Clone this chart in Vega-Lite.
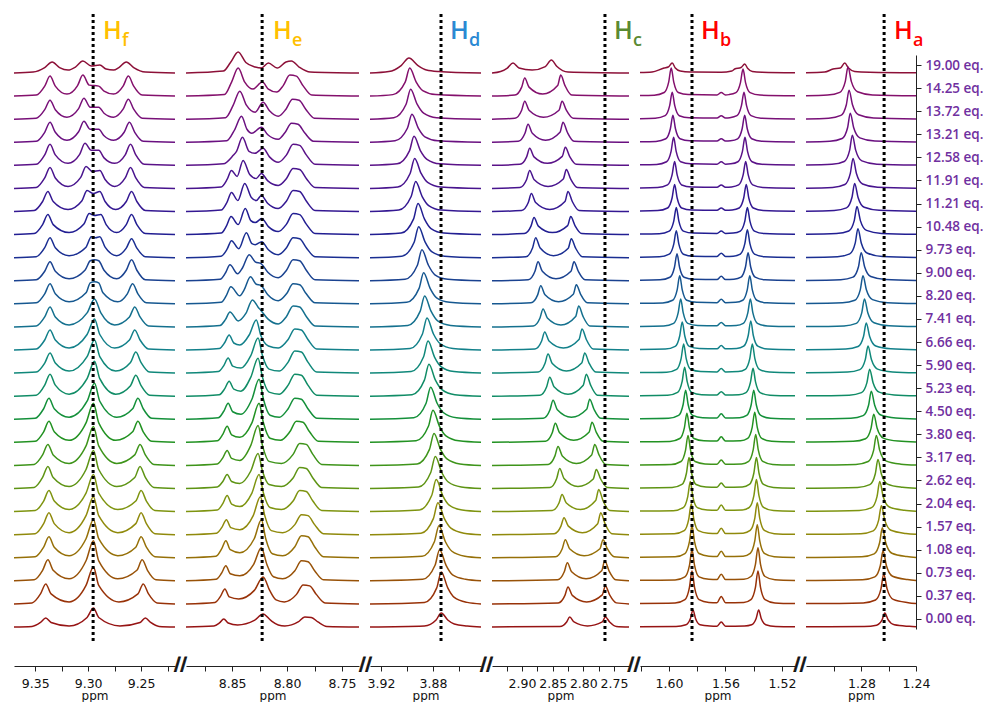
{
  "$schema": "https://vega.github.io/schema/vega-lite/v6.json",
  "background": "white",
  "padding": {"left": 11, "top": 12, "right": 0, "bottom": 0},
  "bounds": "flush",
  "spacing": 11,
  "config": {
    "view": {"stroke": null},
    "font": "DejaVu Sans",
    "axis": {"grid": false},
    "axisX": {"offset": 24, "tickSize": 5, "domainColor": "#222222", "tickColor": "#222222", "labelColor": "#111111", "labelFont": "DejaVu Sans", "labelFontSize": 12.5, "labelPadding": 6, "labelFlush": false, "labelOverlap": false, "titleFont": "DejaVu Sans", "titleFontSize": 12, "titleFontWeight": "normal", "titleColor": "#111111", "titlePadding": 1},
    "axisY": {"tickSize": 5, "domainColor": "#222222", "tickColor": "#222222", "labelFont": "Open Sans", "labelFontWeight": 600, "labelFontSize": 13.5, "labelColor": "#7030A0", "labelPadding": 4}
  },
  "datasets": {
    "hf": [
      {"e":19,"x":9.37,"y":0},{"e":19,"x":9.352,"y":1},{"e":19,"x":9.341,"y":5.5},{"e":19,"x":9.334,"y":11},{"e":19,"x":9.327,"y":5.5},{"e":19,"x":9.319,"y":3},{"e":19,"x":9.312,"y":6},{"e":19,"x":9.305,"y":12},{"e":19,"x":9.297,"y":7},{"e":19,"x":9.289,"y":8},{"e":19,"x":9.283,"y":4},{"e":19,"x":9.276,"y":3},{"e":19,"x":9.271,"y":5.5},{"e":19,"x":9.264,"y":11},{"e":19,"x":9.257,"y":5.5},{"e":19,"x":9.246,"y":1},{"e":19,"x":9.218,"y":0},
      {"e":14.25,"x":9.37,"y":0},{"e":14.25,"x":9.349,"y":1},{"e":14.25,"x":9.341,"y":10},{"e":14.25,"x":9.336,"y":20},{"e":14.25,"x":9.331,"y":10},{"e":14.25,"x":9.32,"y":2},{"e":14.25,"x":9.31,"y":10.5},{"e":14.25,"x":9.305,"y":21},{"e":14.25,"x":9.299,"y":11},{"e":14.25,"x":9.29,"y":10},{"e":14.25,"x":9.285,"y":5},{"e":14.25,"x":9.276,"y":2},{"e":14.25,"x":9.267,"y":10},{"e":14.25,"x":9.262,"y":20},{"e":14.25,"x":9.257,"y":10},{"e":14.25,"x":9.249,"y":1},{"e":14.25,"x":9.218,"y":0},
      {"e":13.72,"x":9.37,"y":0},{"e":13.72,"x":9.349,"y":1},{"e":13.72,"x":9.341,"y":9.5},{"e":13.72,"x":9.336,"y":19},{"e":13.72,"x":9.331,"y":9.5},{"e":13.72,"x":9.32,"y":2},{"e":13.72,"x":9.309,"y":10.5},{"e":13.72,"x":9.304,"y":21},{"e":13.72,"x":9.298,"y":12},{"e":13.72,"x":9.29,"y":12},{"e":13.72,"x":9.285,"y":6},{"e":13.72,"x":9.276,"y":2},{"e":13.72,"x":9.267,"y":10},{"e":13.72,"x":9.262,"y":20},{"e":13.72,"x":9.257,"y":10},{"e":13.72,"x":9.249,"y":1},{"e":13.72,"x":9.218,"y":0},
      {"e":13.21,"x":9.37,"y":0},{"e":13.21,"x":9.349,"y":1},{"e":13.21,"x":9.341,"y":10},{"e":13.21,"x":9.336,"y":20},{"e":13.21,"x":9.331,"y":10},{"e":13.21,"x":9.32,"y":2},{"e":13.21,"x":9.309,"y":10.5},{"e":13.21,"x":9.304,"y":21},{"e":13.21,"x":9.298,"y":13},{"e":13.21,"x":9.29,"y":13},{"e":13.21,"x":9.285,"y":6.5},{"e":13.21,"x":9.276,"y":2},{"e":13.21,"x":9.266,"y":10},{"e":13.21,"x":9.261,"y":20},{"e":13.21,"x":9.256,"y":10},{"e":13.21,"x":9.248,"y":1},{"e":13.21,"x":9.218,"y":0},
      {"e":12.58,"x":9.37,"y":0},{"e":12.58,"x":9.349,"y":1},{"e":12.58,"x":9.341,"y":10.5},{"e":12.58,"x":9.336,"y":21},{"e":12.58,"x":9.331,"y":10.5},{"e":12.58,"x":9.319,"y":2},{"e":12.58,"x":9.308,"y":11},{"e":12.58,"x":9.303,"y":22},{"e":12.58,"x":9.297,"y":15},{"e":12.58,"x":9.29,"y":15},{"e":12.58,"x":9.285,"y":7.5},{"e":12.58,"x":9.275,"y":2},{"e":12.58,"x":9.265,"y":10.5},{"e":12.58,"x":9.26,"y":21},{"e":12.58,"x":9.255,"y":10.5},{"e":12.58,"x":9.247,"y":1},{"e":12.58,"x":9.218,"y":0},
      {"e":11.91,"x":9.37,"y":0},{"e":11.91,"x":9.349,"y":1},{"e":11.91,"x":9.341,"y":10.5},{"e":11.91,"x":9.336,"y":21},{"e":11.91,"x":9.331,"y":10.5},{"e":11.91,"x":9.319,"y":2},{"e":11.91,"x":9.307,"y":11},{"e":11.91,"x":9.302,"y":22},{"e":11.91,"x":9.296,"y":17},{"e":11.91,"x":9.289,"y":18},{"e":11.91,"x":9.284,"y":9},{"e":11.91,"x":9.275,"y":2},{"e":11.91,"x":9.265,"y":10.5},{"e":11.91,"x":9.26,"y":21},{"e":11.91,"x":9.255,"y":10.5},{"e":11.91,"x":9.247,"y":1},{"e":11.91,"x":9.218,"y":0},
      {"e":11.21,"x":9.37,"y":0},{"e":11.21,"x":9.351,"y":1},{"e":11.21,"x":9.343,"y":10},{"e":11.21,"x":9.338,"y":20},{"e":11.21,"x":9.333,"y":10},{"e":11.21,"x":9.319,"y":2},{"e":11.21,"x":9.306,"y":10.5},{"e":11.21,"x":9.301,"y":21},{"e":11.21,"x":9.295,"y":18},{"e":11.21,"x":9.289,"y":20},{"e":11.21,"x":9.284,"y":10},{"e":11.21,"x":9.274,"y":2},{"e":11.21,"x":9.264,"y":10},{"e":11.21,"x":9.259,"y":20},{"e":11.21,"x":9.254,"y":10},{"e":11.21,"x":9.246,"y":1},{"e":11.21,"x":9.218,"y":0},
      {"e":10.48,"x":9.37,"y":0},{"e":10.48,"x":9.351,"y":1},{"e":10.48,"x":9.343,"y":10},{"e":10.48,"x":9.338,"y":20},{"e":10.48,"x":9.333,"y":10},{"e":10.48,"x":9.318,"y":2},{"e":10.48,"x":9.304,"y":10.5},{"e":10.48,"x":9.299,"y":21},{"e":10.48,"x":9.294,"y":19},{"e":10.48,"x":9.288,"y":20},{"e":10.48,"x":9.283,"y":10},{"e":10.48,"x":9.273,"y":2},{"e":10.48,"x":9.264,"y":10},{"e":10.48,"x":9.259,"y":20},{"e":10.48,"x":9.254,"y":10},{"e":10.48,"x":9.246,"y":1},{"e":10.48,"x":9.218,"y":0},
      {"e":9.73,"x":9.37,"y":0},{"e":9.73,"x":9.349,"y":1},{"e":9.73,"x":9.341,"y":10},{"e":9.73,"x":9.336,"y":20},{"e":9.73,"x":9.331,"y":10},{"e":9.73,"x":9.318,"y":2},{"e":9.73,"x":9.302,"y":10.5},{"e":9.73,"x":9.297,"y":21},{"e":9.73,"x":9.293,"y":20},{"e":9.73,"x":9.289,"y":21},{"e":9.73,"x":9.284,"y":10.5},{"e":9.73,"x":9.273,"y":2},{"e":9.73,"x":9.264,"y":9.5},{"e":9.73,"x":9.259,"y":19},{"e":9.73,"x":9.254,"y":9.5},{"e":9.73,"x":9.246,"y":1},{"e":9.73,"x":9.218,"y":0},
      {"e":9,"x":9.37,"y":0},{"e":9,"x":9.349,"y":1},{"e":9,"x":9.341,"y":9.5},{"e":9,"x":9.336,"y":19},{"e":9,"x":9.331,"y":9.5},{"e":9,"x":9.318,"y":2},{"e":9,"x":9.303,"y":10.5},{"e":9,"x":9.298,"y":20},{"e":9,"x":9.294,"y":21},{"e":9,"x":9.29,"y":20},{"e":9,"x":9.285,"y":10.5},{"e":9,"x":9.273,"y":2},{"e":9,"x":9.264,"y":10.5},{"e":9,"x":9.259,"y":21},{"e":9,"x":9.254,"y":10.5},{"e":9,"x":9.246,"y":1},{"e":9,"x":9.218,"y":0},
      {"e":8.2,"x":9.37,"y":0},{"e":8.2,"x":9.349,"y":1},{"e":8.2,"x":9.341,"y":10},{"e":8.2,"x":9.336,"y":20},{"e":8.2,"x":9.331,"y":10},{"e":8.2,"x":9.318,"y":2},{"e":8.2,"x":9.302,"y":11},{"e":8.2,"x":9.298,"y":21},{"e":8.2,"x":9.294,"y":22},{"e":8.2,"x":9.29,"y":21},{"e":8.2,"x":9.286,"y":11},{"e":8.2,"x":9.272,"y":2},{"e":8.2,"x":9.263,"y":10},{"e":8.2,"x":9.258,"y":20},{"e":8.2,"x":9.253,"y":10},{"e":8.2,"x":9.245,"y":1},{"e":8.2,"x":9.218,"y":0},
      {"e":7.41,"x":9.37,"y":0},{"e":7.41,"x":9.349,"y":1},{"e":7.41,"x":9.341,"y":10},{"e":7.41,"x":9.336,"y":20},{"e":7.41,"x":9.331,"y":10},{"e":7.41,"x":9.318,"y":2},{"e":7.41,"x":9.301,"y":14},{"e":7.41,"x":9.294,"y":28},{"e":7.41,"x":9.288,"y":14},{"e":7.41,"x":9.275,"y":2},{"e":7.41,"x":9.261,"y":10},{"e":7.41,"x":9.256,"y":20},{"e":7.41,"x":9.251,"y":10},{"e":7.41,"x":9.243,"y":1},{"e":7.41,"x":9.218,"y":0},
      {"e":6.66,"x":9.37,"y":0},{"e":6.66,"x":9.349,"y":1},{"e":6.66,"x":9.341,"y":10},{"e":6.66,"x":9.336,"y":20},{"e":6.66,"x":9.331,"y":10},{"e":6.66,"x":9.318,"y":2},{"e":6.66,"x":9.301,"y":15.5},{"e":6.66,"x":9.294,"y":31},{"e":6.66,"x":9.289,"y":15.5},{"e":6.66,"x":9.275,"y":2},{"e":6.66,"x":9.261,"y":10},{"e":6.66,"x":9.256,"y":20},{"e":6.66,"x":9.251,"y":10},{"e":6.66,"x":9.243,"y":1},{"e":6.66,"x":9.218,"y":0},
      {"e":5.9,"x":9.37,"y":0},{"e":5.9,"x":9.349,"y":1},{"e":5.9,"x":9.341,"y":10},{"e":5.9,"x":9.336,"y":20},{"e":5.9,"x":9.331,"y":10},{"e":5.9,"x":9.318,"y":2},{"e":5.9,"x":9.301,"y":16.5},{"e":5.9,"x":9.294,"y":33},{"e":5.9,"x":9.289,"y":16.5},{"e":5.9,"x":9.274,"y":2},{"e":5.9,"x":9.26,"y":10.5},{"e":5.9,"x":9.255,"y":21},{"e":5.9,"x":9.25,"y":10.5},{"e":5.9,"x":9.242,"y":1},{"e":5.9,"x":9.218,"y":0},
      {"e":5.23,"x":9.37,"y":0},{"e":5.23,"x":9.349,"y":1},{"e":5.23,"x":9.341,"y":11},{"e":5.23,"x":9.336,"y":22},{"e":5.23,"x":9.331,"y":11},{"e":5.23,"x":9.318,"y":2},{"e":5.23,"x":9.301,"y":17.5},{"e":5.23,"x":9.294,"y":35},{"e":5.23,"x":9.289,"y":17.5},{"e":5.23,"x":9.274,"y":2},{"e":5.23,"x":9.26,"y":10.5},{"e":5.23,"x":9.255,"y":21},{"e":5.23,"x":9.25,"y":10.5},{"e":5.23,"x":9.242,"y":1},{"e":5.23,"x":9.218,"y":0},
      {"e":4.5,"x":9.37,"y":0},{"e":4.5,"x":9.35,"y":1},{"e":4.5,"x":9.342,"y":10.5},{"e":4.5,"x":9.337,"y":21},{"e":4.5,"x":9.332,"y":10.5},{"e":4.5,"x":9.318,"y":2},{"e":4.5,"x":9.301,"y":18},{"e":4.5,"x":9.294,"y":36},{"e":4.5,"x":9.289,"y":18},{"e":4.5,"x":9.273,"y":2},{"e":4.5,"x":9.258,"y":10.5},{"e":4.5,"x":9.253,"y":21},{"e":4.5,"x":9.248,"y":10.5},{"e":4.5,"x":9.24,"y":1},{"e":4.5,"x":9.218,"y":0},
      {"e":3.8,"x":9.37,"y":0},{"e":3.8,"x":9.35,"y":1},{"e":3.8,"x":9.342,"y":10.5},{"e":3.8,"x":9.337,"y":21},{"e":3.8,"x":9.332,"y":10.5},{"e":3.8,"x":9.318,"y":2},{"e":3.8,"x":9.302,"y":19.5},{"e":3.8,"x":9.295,"y":39},{"e":3.8,"x":9.29,"y":19.5},{"e":3.8,"x":9.274,"y":2},{"e":3.8,"x":9.258,"y":10.5},{"e":3.8,"x":9.253,"y":21},{"e":3.8,"x":9.248,"y":10.5},{"e":3.8,"x":9.24,"y":1},{"e":3.8,"x":9.218,"y":0},
      {"e":3.17,"x":9.37,"y":0},{"e":3.17,"x":9.351,"y":1},{"e":3.17,"x":9.343,"y":10.5},{"e":3.17,"x":9.338,"y":21},{"e":3.17,"x":9.333,"y":10.5},{"e":3.17,"x":9.318,"y":2},{"e":3.17,"x":9.302,"y":19.5},{"e":3.17,"x":9.295,"y":39},{"e":3.17,"x":9.29,"y":19.5},{"e":3.17,"x":9.273,"y":2},{"e":3.17,"x":9.256,"y":10.5},{"e":3.17,"x":9.251,"y":21},{"e":3.17,"x":9.246,"y":10.5},{"e":3.17,"x":9.238,"y":1},{"e":3.17,"x":9.218,"y":0},
      {"e":2.62,"x":9.37,"y":0},{"e":2.62,"x":9.351,"y":1},{"e":2.62,"x":9.343,"y":11},{"e":2.62,"x":9.338,"y":22},{"e":2.62,"x":9.333,"y":11},{"e":2.62,"x":9.318,"y":2},{"e":2.62,"x":9.302,"y":19},{"e":2.62,"x":9.295,"y":38},{"e":2.62,"x":9.29,"y":19},{"e":2.62,"x":9.273,"y":2},{"e":2.62,"x":9.256,"y":11},{"e":2.62,"x":9.251,"y":22},{"e":2.62,"x":9.246,"y":11},{"e":2.62,"x":9.238,"y":1},{"e":2.62,"x":9.218,"y":0},
      {"e":2.04,"x":9.37,"y":0},{"e":2.04,"x":9.35,"y":1},{"e":2.04,"x":9.342,"y":10.5},{"e":2.04,"x":9.337,"y":21},{"e":2.04,"x":9.332,"y":10.5},{"e":2.04,"x":9.318,"y":2},{"e":2.04,"x":9.302,"y":18.5},{"e":2.04,"x":9.295,"y":37},{"e":2.04,"x":9.29,"y":18.5},{"e":2.04,"x":9.272,"y":2},{"e":2.04,"x":9.255,"y":10.5},{"e":2.04,"x":9.25,"y":21},{"e":2.04,"x":9.245,"y":10.5},{"e":2.04,"x":9.237,"y":1},{"e":2.04,"x":9.218,"y":0},
      {"e":1.57,"x":9.37,"y":0},{"e":1.57,"x":9.35,"y":1},{"e":1.57,"x":9.342,"y":11},{"e":1.57,"x":9.337,"y":22},{"e":1.57,"x":9.332,"y":11},{"e":1.57,"x":9.318,"y":2},{"e":1.57,"x":9.302,"y":19},{"e":1.57,"x":9.295,"y":38},{"e":1.57,"x":9.29,"y":19},{"e":1.57,"x":9.272,"y":2},{"e":1.57,"x":9.255,"y":11},{"e":1.57,"x":9.25,"y":22},{"e":1.57,"x":9.245,"y":11},{"e":1.57,"x":9.237,"y":1},{"e":1.57,"x":9.218,"y":0},
      {"e":1.08,"x":9.37,"y":0},{"e":1.08,"x":9.35,"y":1},{"e":1.08,"x":9.342,"y":10.5},{"e":1.08,"x":9.337,"y":21},{"e":1.08,"x":9.332,"y":10.5},{"e":1.08,"x":9.318,"y":2},{"e":1.08,"x":9.302,"y":19},{"e":1.08,"x":9.295,"y":38},{"e":1.08,"x":9.29,"y":19},{"e":1.08,"x":9.272,"y":2},{"e":1.08,"x":9.255,"y":10.5},{"e":1.08,"x":9.25,"y":21},{"e":1.08,"x":9.245,"y":10.5},{"e":1.08,"x":9.237,"y":1},{"e":1.08,"x":9.218,"y":0},
      {"e":0.73,"x":9.37,"y":0},{"e":0.73,"x":9.351,"y":1},{"e":0.73,"x":9.343,"y":10.5},{"e":0.73,"x":9.338,"y":21},{"e":0.73,"x":9.333,"y":10.5},{"e":0.73,"x":9.318,"y":2},{"e":0.73,"x":9.302,"y":20},{"e":0.73,"x":9.295,"y":40},{"e":0.73,"x":9.29,"y":20},{"e":0.73,"x":9.272,"y":2},{"e":0.73,"x":9.254,"y":10.5},{"e":0.73,"x":9.249,"y":21},{"e":0.73,"x":9.244,"y":10.5},{"e":0.73,"x":9.236,"y":1},{"e":0.73,"x":9.218,"y":0},
      {"e":0.37,"x":9.37,"y":0},{"e":0.37,"x":9.353,"y":1},{"e":0.37,"x":9.345,"y":10},{"e":0.37,"x":9.34,"y":20},{"e":0.37,"x":9.335,"y":10},{"e":0.37,"x":9.318,"y":2},{"e":0.37,"x":9.302,"y":18.5},{"e":0.37,"x":9.295,"y":37},{"e":0.37,"x":9.29,"y":18.5},{"e":0.37,"x":9.271,"y":2},{"e":0.37,"x":9.253,"y":10},{"e":0.37,"x":9.248,"y":20},{"e":0.37,"x":9.243,"y":10},{"e":0.37,"x":9.235,"y":1},{"e":0.37,"x":9.218,"y":0},
      {"e":0,"x":9.37,"y":0},{"e":0,"x":9.353,"y":0.5},{"e":0,"x":9.345,"y":4.5},{"e":0,"x":9.34,"y":9},{"e":0,"x":9.335,"y":4.5},{"e":0,"x":9.318,"y":1},{"e":0,"x":9.301,"y":9.5},{"e":0,"x":9.295,"y":19},{"e":0,"x":9.29,"y":9.5},{"e":0,"x":9.27,"y":1},{"e":0,"x":9.251,"y":4.5},{"e":0,"x":9.246,"y":9},{"e":0,"x":9.241,"y":4.5},{"e":0,"x":9.233,"y":0.5},{"e":0,"x":9.218,"y":0}
    ],
    "he": [
      {"e":19,"x":8.892,"y":0},{"e":19,"x":8.858,"y":2},{"e":19,"x":8.8515,"y":10.5},{"e":19,"x":8.8445,"y":21},{"e":19,"x":8.8375,"y":10.5},{"e":19,"x":8.829,"y":6},{"e":19,"x":8.8234,"y":5},{"e":19,"x":8.817,"y":10},{"e":19,"x":8.809,"y":5},{"e":19,"x":8.801,"y":11},{"e":19,"x":8.796,"y":12},{"e":19,"x":8.789,"y":6},{"e":19,"x":8.779,"y":1},{"e":19,"x":8.7345,"y":0},
      {"e":14.25,"x":8.892,"y":0},{"e":14.25,"x":8.857,"y":1.5},{"e":14.25,"x":8.8505,"y":14},{"e":14.25,"x":8.8445,"y":28},{"e":14.25,"x":8.8385,"y":14},{"e":14.25,"x":8.831,"y":7},{"e":14.25,"x":8.8225,"y":14},{"e":14.25,"x":8.817,"y":7},{"e":14.25,"x":8.8095,"y":4},{"e":14.25,"x":8.8035,"y":10.5},{"e":14.25,"x":8.7975,"y":21},{"e":14.25,"x":8.7915,"y":20},{"e":14.25,"x":8.7855,"y":10.5},{"e":14.25,"x":8.7775,"y":1},{"e":14.25,"x":8.7345,"y":0},
      {"e":13.72,"x":8.892,"y":0},{"e":13.72,"x":8.856,"y":1.5},{"e":13.72,"x":8.849,"y":14},{"e":13.72,"x":8.843,"y":28},{"e":13.72,"x":8.837,"y":14},{"e":13.72,"x":8.829,"y":7},{"e":13.72,"x":8.8218,"y":17},{"e":13.72,"x":8.816,"y":8.5},{"e":13.72,"x":8.808,"y":3},{"e":13.72,"x":8.801,"y":10},{"e":13.72,"x":8.795,"y":20},{"e":13.72,"x":8.789,"y":19},{"e":13.72,"x":8.783,"y":10},{"e":13.72,"x":8.775,"y":1},{"e":13.72,"x":8.7345,"y":0},
      {"e":13.21,"x":8.892,"y":0},{"e":13.21,"x":8.855,"y":1.5},{"e":13.21,"x":8.8475,"y":13},{"e":13.21,"x":8.8415,"y":26},{"e":13.21,"x":8.8365,"y":13},{"e":13.21,"x":8.832,"y":9},{"e":13.21,"x":8.8234,"y":15},{"e":13.21,"x":8.8175,"y":7.5},{"e":13.21,"x":8.808,"y":3},{"e":13.21,"x":8.802,"y":9.5},{"e":13.21,"x":8.796,"y":19},{"e":13.21,"x":8.79,"y":18},{"e":13.21,"x":8.784,"y":9.5},{"e":13.21,"x":8.776,"y":1},{"e":13.21,"x":8.7345,"y":0},
      {"e":12.58,"x":8.892,"y":0},{"e":12.58,"x":8.858,"y":1.5},{"e":12.58,"x":8.849,"y":10},{"e":12.58,"x":8.846,"y":14},{"e":12.58,"x":8.8406,"y":28},{"e":12.58,"x":8.8346,"y":14},{"e":12.58,"x":8.8294,"y":12},{"e":12.58,"x":8.8218,"y":17},{"e":12.58,"x":8.816,"y":8.5},{"e":12.58,"x":8.808,"y":3},{"e":12.58,"x":8.8005,"y":10.5},{"e":12.58,"x":8.7945,"y":21},{"e":12.58,"x":8.7885,"y":20},{"e":12.58,"x":8.7825,"y":10.5},{"e":12.58,"x":8.7745,"y":1},{"e":12.58,"x":8.7345,"y":0},
      {"e":11.91,"x":8.892,"y":0},{"e":11.91,"x":8.86,"y":1.5},{"e":11.91,"x":8.8546,"y":9},{"e":11.91,"x":8.8506,"y":18},{"e":11.91,"x":8.8455,"y":12},{"e":11.91,"x":8.84,"y":28},{"e":11.91,"x":8.834,"y":14},{"e":11.91,"x":8.828,"y":10},{"e":11.91,"x":8.8234,"y":15},{"e":11.91,"x":8.8175,"y":7.5},{"e":11.91,"x":8.808,"y":3},{"e":11.91,"x":8.8005,"y":10},{"e":11.91,"x":8.7945,"y":20},{"e":11.91,"x":8.7885,"y":19},{"e":11.91,"x":8.7825,"y":10},{"e":11.91,"x":8.7745,"y":1},{"e":11.91,"x":8.7345,"y":0},
      {"e":11.21,"x":8.892,"y":0},{"e":11.21,"x":8.86,"y":1.5},{"e":11.21,"x":8.8546,"y":9.5},{"e":11.21,"x":8.8506,"y":19},{"e":11.21,"x":8.8448,"y":11},{"e":11.21,"x":8.8385,"y":28},{"e":11.21,"x":8.8325,"y":14},{"e":11.21,"x":8.828,"y":11},{"e":11.21,"x":8.8234,"y":16},{"e":11.21,"x":8.8175,"y":8},{"e":11.21,"x":8.808,"y":3},{"e":11.21,"x":8.8005,"y":10.5},{"e":11.21,"x":8.7945,"y":21},{"e":11.21,"x":8.7885,"y":20},{"e":11.21,"x":8.7825,"y":10.5},{"e":11.21,"x":8.7745,"y":1},{"e":11.21,"x":8.7345,"y":0},
      {"e":10.48,"x":8.892,"y":0},{"e":10.48,"x":8.86,"y":1.5},{"e":10.48,"x":8.855,"y":9},{"e":10.48,"x":8.851,"y":18},{"e":10.48,"x":8.8445,"y":10},{"e":10.48,"x":8.838,"y":26},{"e":10.48,"x":8.833,"y":14},{"e":10.48,"x":8.829,"y":12},{"e":10.48,"x":8.823,"y":16},{"e":10.48,"x":8.817,"y":8},{"e":10.48,"x":8.808,"y":3},{"e":10.48,"x":8.8005,"y":10.5},{"e":10.48,"x":8.7945,"y":21},{"e":10.48,"x":8.7885,"y":20},{"e":10.48,"x":8.7825,"y":10.5},{"e":10.48,"x":8.7745,"y":1},{"e":10.48,"x":8.7345,"y":0},
      {"e":9.73,"x":8.892,"y":0},{"e":9.73,"x":8.86,"y":1.5},{"e":9.73,"x":8.8546,"y":8.5},{"e":9.73,"x":8.8506,"y":17},{"e":9.73,"x":8.844,"y":9},{"e":9.73,"x":8.837,"y":25},{"e":9.73,"x":8.832,"y":14},{"e":9.73,"x":8.829,"y":13},{"e":9.73,"x":8.823,"y":16},{"e":9.73,"x":8.817,"y":8},{"e":9.73,"x":8.808,"y":3},{"e":9.73,"x":8.8005,"y":10},{"e":9.73,"x":8.7945,"y":20},{"e":9.73,"x":8.7885,"y":19},{"e":9.73,"x":8.7825,"y":10},{"e":9.73,"x":8.7745,"y":1},{"e":9.73,"x":8.7345,"y":0},
      {"e":9,"x":8.892,"y":0},{"e":9,"x":8.861,"y":1.5},{"e":9,"x":8.856,"y":8},{"e":9,"x":8.852,"y":16},{"e":9,"x":8.845,"y":7},{"e":9,"x":8.8405,"y":13},{"e":9,"x":8.8345,"y":26},{"e":9,"x":8.829,"y":19},{"e":9,"x":8.8234,"y":17},{"e":9,"x":8.8175,"y":8.5},{"e":9,"x":8.808,"y":3},{"e":9,"x":8.8005,"y":10.5},{"e":9,"x":8.7945,"y":21},{"e":9,"x":8.7885,"y":20},{"e":9,"x":8.7825,"y":10.5},{"e":9,"x":8.7745,"y":1},{"e":9,"x":8.7345,"y":0},
      {"e":8.2,"x":8.892,"y":0},{"e":8.2,"x":8.86,"y":1.5},{"e":8.2,"x":8.8552,"y":8.5},{"e":8.2,"x":8.8512,"y":17},{"e":8.2,"x":8.843,"y":8},{"e":8.2,"x":8.8393,"y":13.5},{"e":8.2,"x":8.8333,"y":27},{"e":8.2,"x":8.8285,"y":20},{"e":8.2,"x":8.8234,"y":18},{"e":8.2,"x":8.8175,"y":9},{"e":8.2,"x":8.808,"y":3},{"e":8.2,"x":8.8005,"y":10},{"e":8.2,"x":8.7945,"y":20},{"e":8.2,"x":8.7885,"y":19},{"e":8.2,"x":8.7825,"y":10},{"e":8.2,"x":8.7745,"y":1},{"e":8.2,"x":8.7345,"y":0},
      {"e":7.41,"x":8.892,"y":0},{"e":7.41,"x":8.861,"y":1.5},{"e":7.41,"x":8.856,"y":7.5},{"e":7.41,"x":8.852,"y":15},{"e":7.41,"x":8.8445,"y":6},{"e":7.41,"x":8.8375,"y":13.5},{"e":7.41,"x":8.8315,"y":27},{"e":7.41,"x":8.8265,"y":20},{"e":7.41,"x":8.8234,"y":16},{"e":7.41,"x":8.8175,"y":8},{"e":7.41,"x":8.808,"y":3},{"e":7.41,"x":8.8005,"y":10.5},{"e":7.41,"x":8.7945,"y":21},{"e":7.41,"x":8.7885,"y":20},{"e":7.41,"x":8.7825,"y":10.5},{"e":7.41,"x":8.7745,"y":1},{"e":7.41,"x":8.7345,"y":0},
      {"e":6.66,"x":8.892,"y":0},{"e":6.66,"x":8.8617,"y":1.5},{"e":6.66,"x":8.8567,"y":7.5},{"e":6.66,"x":8.8527,"y":15},{"e":6.66,"x":8.8485,"y":7},{"e":6.66,"x":8.843,"y":5},{"e":6.66,"x":8.8345,"y":15},{"e":6.66,"x":8.828,"y":30},{"e":6.66,"x":8.824,"y":15},{"e":6.66,"x":8.817,"y":4},{"e":6.66,"x":8.808,"y":2},{"e":6.66,"x":8.799,"y":10.5},{"e":6.66,"x":8.793,"y":21},{"e":6.66,"x":8.787,"y":20},{"e":6.66,"x":8.781,"y":10.5},{"e":6.66,"x":8.773,"y":1},{"e":6.66,"x":8.7345,"y":0},
      {"e":5.9,"x":8.892,"y":0},{"e":5.9,"x":8.8626,"y":1.5},{"e":5.9,"x":8.8576,"y":7.5},{"e":5.9,"x":8.8536,"y":15},{"e":5.9,"x":8.8495,"y":7},{"e":5.9,"x":8.842,"y":5},{"e":5.9,"x":8.833,"y":17.5},{"e":5.9,"x":8.8264,"y":35},{"e":5.9,"x":8.8224,"y":17.5},{"e":5.9,"x":8.8164,"y":4},{"e":5.9,"x":8.807,"y":2},{"e":5.9,"x":8.799,"y":11},{"e":5.9,"x":8.793,"y":22},{"e":5.9,"x":8.787,"y":21},{"e":5.9,"x":8.781,"y":11},{"e":5.9,"x":8.773,"y":1},{"e":5.9,"x":8.7345,"y":0},
      {"e":5.23,"x":8.892,"y":0},{"e":5.23,"x":8.8617,"y":1.5},{"e":5.23,"x":8.8567,"y":7.5},{"e":5.23,"x":8.8527,"y":15},{"e":5.23,"x":8.8485,"y":7},{"e":5.23,"x":8.842,"y":5},{"e":5.23,"x":8.833,"y":19},{"e":5.23,"x":8.8264,"y":38},{"e":5.23,"x":8.8224,"y":19},{"e":5.23,"x":8.8164,"y":4},{"e":5.23,"x":8.807,"y":2},{"e":5.23,"x":8.799,"y":11},{"e":5.23,"x":8.793,"y":22},{"e":5.23,"x":8.787,"y":21},{"e":5.23,"x":8.781,"y":11},{"e":5.23,"x":8.773,"y":1},{"e":5.23,"x":8.7345,"y":0},
      {"e":4.5,"x":8.892,"y":0},{"e":4.5,"x":8.8626,"y":1.5},{"e":4.5,"x":8.8576,"y":8},{"e":4.5,"x":8.8536,"y":16},{"e":4.5,"x":8.8495,"y":7.5},{"e":4.5,"x":8.842,"y":5},{"e":4.5,"x":8.832,"y":20},{"e":4.5,"x":8.8255,"y":40},{"e":4.5,"x":8.8215,"y":20},{"e":4.5,"x":8.8155,"y":4},{"e":4.5,"x":8.807,"y":2},{"e":4.5,"x":8.799,"y":10.5},{"e":4.5,"x":8.793,"y":21},{"e":4.5,"x":8.787,"y":20},{"e":4.5,"x":8.781,"y":10.5},{"e":4.5,"x":8.773,"y":1},{"e":4.5,"x":8.7345,"y":0},
      {"e":3.8,"x":8.892,"y":0},{"e":3.8,"x":8.8635,"y":1.5},{"e":3.8,"x":8.8585,"y":8},{"e":3.8,"x":8.8545,"y":16},{"e":3.8,"x":8.8505,"y":7.5},{"e":3.8,"x":8.843,"y":5},{"e":3.8,"x":8.832,"y":19.5},{"e":3.8,"x":8.8255,"y":39},{"e":3.8,"x":8.8215,"y":19.5},{"e":3.8,"x":8.8155,"y":4},{"e":3.8,"x":8.806,"y":2},{"e":3.8,"x":8.7975,"y":10.5},{"e":3.8,"x":8.7915,"y":21},{"e":3.8,"x":8.7855,"y":20},{"e":3.8,"x":8.7795,"y":10.5},{"e":3.8,"x":8.7715,"y":1},{"e":3.8,"x":8.7345,"y":0},
      {"e":3.17,"x":8.892,"y":0},{"e":3.17,"x":8.8635,"y":1.5},{"e":3.17,"x":8.8585,"y":7.5},{"e":3.17,"x":8.8545,"y":15},{"e":3.17,"x":8.8505,"y":7},{"e":3.17,"x":8.843,"y":5},{"e":3.17,"x":8.833,"y":20},{"e":3.17,"x":8.8264,"y":40},{"e":3.17,"x":8.8224,"y":20},{"e":3.17,"x":8.8164,"y":4},{"e":3.17,"x":8.805,"y":2},{"e":3.17,"x":8.7945,"y":11},{"e":3.17,"x":8.7885,"y":22},{"e":3.17,"x":8.7825,"y":21},{"e":3.17,"x":8.7765,"y":11},{"e":3.17,"x":8.7685,"y":1},{"e":3.17,"x":8.7345,"y":0},
      {"e":2.62,"x":8.892,"y":0},{"e":2.62,"x":8.8635,"y":1.5},{"e":2.62,"x":8.8585,"y":7},{"e":2.62,"x":8.8545,"y":14},{"e":2.62,"x":8.8505,"y":7},{"e":2.62,"x":8.843,"y":5},{"e":2.62,"x":8.833,"y":17.5},{"e":2.62,"x":8.8264,"y":35},{"e":2.62,"x":8.8224,"y":17.5},{"e":2.62,"x":8.8164,"y":4},{"e":2.62,"x":8.805,"y":2},{"e":2.62,"x":8.7945,"y":10.5},{"e":2.62,"x":8.7885,"y":21},{"e":2.62,"x":8.7825,"y":20},{"e":2.62,"x":8.7765,"y":10.5},{"e":2.62,"x":8.7685,"y":1},{"e":2.62,"x":8.7345,"y":0},
      {"e":2.04,"x":8.892,"y":0},{"e":2.04,"x":8.8635,"y":1.5},{"e":2.04,"x":8.8585,"y":8},{"e":2.04,"x":8.8545,"y":16},{"e":2.04,"x":8.8505,"y":7.5},{"e":2.04,"x":8.843,"y":5},{"e":2.04,"x":8.832,"y":18.5},{"e":2.04,"x":8.8255,"y":37},{"e":2.04,"x":8.8215,"y":18.5},{"e":2.04,"x":8.8155,"y":4},{"e":2.04,"x":8.805,"y":2},{"e":2.04,"x":8.7945,"y":10.5},{"e":2.04,"x":8.7885,"y":21},{"e":2.04,"x":8.7825,"y":20},{"e":2.04,"x":8.7765,"y":10.5},{"e":2.04,"x":8.7685,"y":1},{"e":2.04,"x":8.7345,"y":0},
      {"e":1.57,"x":8.892,"y":0},{"e":1.57,"x":8.8642,"y":1.5},{"e":1.57,"x":8.8592,"y":7.5},{"e":1.57,"x":8.8552,"y":15},{"e":1.57,"x":8.8512,"y":7},{"e":1.57,"x":8.843,"y":5},{"e":1.57,"x":8.8308,"y":19},{"e":1.57,"x":8.8243,"y":38},{"e":1.57,"x":8.8203,"y":19},{"e":1.57,"x":8.8143,"y":4},{"e":1.57,"x":8.804,"y":2},{"e":1.57,"x":8.7929,"y":10},{"e":1.57,"x":8.7869,"y":20},{"e":1.57,"x":8.7809,"y":19},{"e":1.57,"x":8.7749,"y":10},{"e":1.57,"x":8.7669,"y":1},{"e":1.57,"x":8.7345,"y":0},
      {"e":1.08,"x":8.892,"y":0},{"e":1.08,"x":8.8647,"y":1.5},{"e":1.08,"x":8.8597,"y":8.5},{"e":1.08,"x":8.8557,"y":17},{"e":1.08,"x":8.8517,"y":8},{"e":1.08,"x":8.843,"y":5},{"e":1.08,"x":8.8299,"y":19},{"e":1.08,"x":8.8234,"y":38},{"e":1.08,"x":8.8194,"y":19},{"e":1.08,"x":8.8134,"y":4},{"e":1.08,"x":8.804,"y":2},{"e":1.08,"x":8.7929,"y":11},{"e":1.08,"x":8.7869,"y":22},{"e":1.08,"x":8.7809,"y":21},{"e":1.08,"x":8.7749,"y":11},{"e":1.08,"x":8.7669,"y":1},{"e":1.08,"x":8.7345,"y":0},
      {"e":0.73,"x":8.892,"y":0},{"e":0.73,"x":8.8647,"y":1.5},{"e":0.73,"x":8.8597,"y":7.5},{"e":0.73,"x":8.8557,"y":15},{"e":0.73,"x":8.8517,"y":7},{"e":0.73,"x":8.843,"y":5},{"e":0.73,"x":8.8304,"y":16.5},{"e":0.73,"x":8.8234,"y":33},{"e":0.73,"x":8.8184,"y":16.5},{"e":0.73,"x":8.8124,"y":4},{"e":0.73,"x":8.804,"y":2},{"e":0.73,"x":8.7929,"y":10},{"e":0.73,"x":8.7869,"y":20},{"e":0.73,"x":8.7809,"y":19},{"e":0.73,"x":8.7749,"y":10},{"e":0.73,"x":8.7669,"y":1},{"e":0.73,"x":8.7345,"y":0},
      {"e":0.37,"x":8.892,"y":0},{"e":0.37,"x":8.8656,"y":1.5},{"e":0.37,"x":8.8606,"y":7.5},{"e":0.37,"x":8.8566,"y":15},{"e":0.37,"x":8.8526,"y":7},{"e":0.37,"x":8.844,"y":5},{"e":0.37,"x":8.8298,"y":13.5},{"e":0.37,"x":8.8218,"y":27},{"e":0.37,"x":8.8158,"y":13.5},{"e":0.37,"x":8.81,"y":4},{"e":0.37,"x":8.8025,"y":2},{"e":0.37,"x":8.7914,"y":9.5},{"e":0.37,"x":8.7854,"y":19},{"e":0.37,"x":8.7794,"y":18},{"e":0.37,"x":8.7734,"y":9.5},{"e":0.37,"x":8.7654,"y":1},{"e":0.37,"x":8.7345,"y":0},
      {"e":0,"x":8.892,"y":0},{"e":0,"x":8.8666,"y":1},{"e":0,"x":8.8616,"y":4},{"e":0,"x":8.8576,"y":8},{"e":0,"x":8.8536,"y":4},{"e":0,"x":8.845,"y":2},{"e":0,"x":8.8298,"y":6.5},{"e":0,"x":8.8218,"y":13},{"e":0,"x":8.8148,"y":6.5},{"e":0,"x":8.808,"y":2},{"e":0,"x":8.802,"y":1},{"e":0,"x":8.7899,"y":5},{"e":0,"x":8.7839,"y":10},{"e":0,"x":8.7779,"y":9.5},{"e":0,"x":8.7719,"y":5},{"e":0,"x":8.7639,"y":0.5},{"e":0,"x":8.7345,"y":0}
    ],
    "hd": [
      {"e":19,"x":3.9285,"y":0},{"e":19,"x":3.914,"y":1.5},{"e":19,"x":3.9045,"y":7.5},{"e":19,"x":3.8985,"y":15},{"e":19,"x":3.8915,"y":7.5},{"e":19,"x":3.885,"y":3},{"e":19,"x":3.876,"y":1.5},{"e":19,"x":3.843,"y":0},
      {"e":14.25,"x":3.9285,"y":0},{"e":14.25,"x":3.9109,"y":1.5},{"e":14.25,"x":3.9014,"y":14},{"e":14.25,"x":3.8979,"y":28},{"e":14.25,"x":3.8929,"y":14},{"e":14.25,"x":3.8879,"y":5.5},{"e":14.25,"x":3.8779,"y":1.5},{"e":14.25,"x":3.843,"y":0},
      {"e":13.72,"x":3.9285,"y":0},{"e":13.72,"x":3.9102,"y":1.5},{"e":13.72,"x":3.9007,"y":15},{"e":13.72,"x":3.8972,"y":30},{"e":13.72,"x":3.8922,"y":15},{"e":13.72,"x":3.8872,"y":6},{"e":13.72,"x":3.8772,"y":1.5},{"e":13.72,"x":3.843,"y":0},
      {"e":13.21,"x":3.9285,"y":0},{"e":13.21,"x":3.9092,"y":1.5},{"e":13.21,"x":3.8997,"y":14},{"e":13.21,"x":3.8962,"y":28},{"e":13.21,"x":3.8912,"y":14},{"e":13.21,"x":3.8862,"y":5.5},{"e":13.21,"x":3.8762,"y":1.5},{"e":13.21,"x":3.843,"y":0},
      {"e":12.58,"x":3.9285,"y":0},{"e":12.58,"x":3.9076,"y":1.5},{"e":12.58,"x":3.8981,"y":14.5},{"e":12.58,"x":3.8946,"y":29},{"e":12.58,"x":3.8896,"y":14.5},{"e":12.58,"x":3.8846,"y":6},{"e":12.58,"x":3.8746,"y":1.5},{"e":12.58,"x":3.843,"y":0},
      {"e":11.91,"x":3.9285,"y":0},{"e":11.91,"x":3.9071,"y":1.5},{"e":11.91,"x":3.8976,"y":15},{"e":11.91,"x":3.8941,"y":30},{"e":11.91,"x":3.8891,"y":15},{"e":11.91,"x":3.8841,"y":6},{"e":11.91,"x":3.8741,"y":1.5},{"e":11.91,"x":3.843,"y":0},
      {"e":11.21,"x":3.9285,"y":0},{"e":11.21,"x":3.9063,"y":1.5},{"e":11.21,"x":3.8968,"y":15},{"e":11.21,"x":3.8933,"y":30},{"e":11.21,"x":3.8883,"y":15},{"e":11.21,"x":3.8833,"y":6},{"e":11.21,"x":3.8733,"y":1.5},{"e":11.21,"x":3.843,"y":0},
      {"e":10.48,"x":3.9285,"y":0},{"e":10.48,"x":3.9045,"y":1.5},{"e":10.48,"x":3.895,"y":15.5},{"e":10.48,"x":3.8915,"y":31},{"e":10.48,"x":3.8865,"y":15.5},{"e":10.48,"x":3.8815,"y":6},{"e":10.48,"x":3.8715,"y":1.5},{"e":10.48,"x":3.843,"y":0},
      {"e":9.73,"x":3.9285,"y":0},{"e":9.73,"x":3.904,"y":1.5},{"e":9.73,"x":3.8945,"y":15.5},{"e":9.73,"x":3.891,"y":31},{"e":9.73,"x":3.886,"y":15.5},{"e":9.73,"x":3.881,"y":6},{"e":9.73,"x":3.871,"y":1.5},{"e":9.73,"x":3.843,"y":0},
      {"e":9,"x":3.9285,"y":0},{"e":9,"x":3.9015,"y":1.5},{"e":9,"x":3.892,"y":15.5},{"e":9,"x":3.8885,"y":31},{"e":9,"x":3.8835,"y":15.5},{"e":9,"x":3.8785,"y":6},{"e":9,"x":3.8685,"y":1.5},{"e":9,"x":3.843,"y":0},
      {"e":8.2,"x":3.9285,"y":0},{"e":8.2,"x":3.9002,"y":1.5},{"e":8.2,"x":3.8907,"y":15.5},{"e":8.2,"x":3.8872,"y":31},{"e":8.2,"x":3.8822,"y":15.5},{"e":8.2,"x":3.8772,"y":6},{"e":8.2,"x":3.8672,"y":1.5},{"e":8.2,"x":3.843,"y":0},
      {"e":7.41,"x":3.9285,"y":0},{"e":7.41,"x":3.8994,"y":1.5},{"e":7.41,"x":3.8899,"y":15.5},{"e":7.41,"x":3.8864,"y":31},{"e":7.41,"x":3.8814,"y":15.5},{"e":7.41,"x":3.8764,"y":6},{"e":7.41,"x":3.8664,"y":1.5},{"e":7.41,"x":3.843,"y":0},
      {"e":6.66,"x":3.9285,"y":0},{"e":6.66,"x":3.8976,"y":1.5},{"e":6.66,"x":3.8881,"y":16},{"e":6.66,"x":3.8846,"y":32},{"e":6.66,"x":3.8796,"y":16},{"e":6.66,"x":3.8746,"y":6.5},{"e":6.66,"x":3.8646,"y":1.5},{"e":6.66,"x":3.843,"y":0},
      {"e":5.9,"x":3.9285,"y":0},{"e":5.9,"x":3.8968,"y":1.5},{"e":5.9,"x":3.8873,"y":16},{"e":5.9,"x":3.8838,"y":32},{"e":5.9,"x":3.8788,"y":16},{"e":5.9,"x":3.8738,"y":6.5},{"e":5.9,"x":3.8638,"y":1.5},{"e":5.9,"x":3.843,"y":0},
      {"e":5.23,"x":3.9285,"y":0},{"e":5.23,"x":3.8961,"y":1.5},{"e":5.23,"x":3.8866,"y":16},{"e":5.23,"x":3.8831,"y":32},{"e":5.23,"x":3.8781,"y":16},{"e":5.23,"x":3.8731,"y":6.5},{"e":5.23,"x":3.8631,"y":1.5},{"e":5.23,"x":3.843,"y":0},
      {"e":4.5,"x":3.9285,"y":0},{"e":4.5,"x":3.8948,"y":1.5},{"e":4.5,"x":3.8853,"y":16},{"e":4.5,"x":3.8818,"y":32},{"e":4.5,"x":3.8768,"y":16},{"e":4.5,"x":3.8718,"y":6.5},{"e":4.5,"x":3.8618,"y":1.5},{"e":4.5,"x":3.843,"y":0},
      {"e":3.8,"x":3.9285,"y":0},{"e":3.8,"x":3.893,"y":1.5},{"e":3.8,"x":3.8835,"y":16},{"e":3.8,"x":3.88,"y":32},{"e":3.8,"x":3.875,"y":16},{"e":3.8,"x":3.87,"y":6.5},{"e":3.8,"x":3.86,"y":1.5},{"e":3.8,"x":3.843,"y":0},
      {"e":3.17,"x":3.9285,"y":0},{"e":3.17,"x":3.8922,"y":1.5},{"e":3.17,"x":3.8827,"y":16},{"e":3.17,"x":3.8792,"y":32},{"e":3.17,"x":3.8742,"y":16},{"e":3.17,"x":3.8692,"y":6.5},{"e":3.17,"x":3.8592,"y":1.5},{"e":3.17,"x":3.843,"y":0},
      {"e":2.62,"x":3.9285,"y":0},{"e":2.62,"x":3.8912,"y":1.5},{"e":2.62,"x":3.8817,"y":16},{"e":2.62,"x":3.8782,"y":32},{"e":2.62,"x":3.8732,"y":16},{"e":2.62,"x":3.8682,"y":6.5},{"e":2.62,"x":3.8582,"y":1.5},{"e":2.62,"x":3.843,"y":0},
      {"e":2.04,"x":3.9285,"y":0},{"e":2.04,"x":3.8905,"y":1.5},{"e":2.04,"x":3.881,"y":16},{"e":2.04,"x":3.8775,"y":32},{"e":2.04,"x":3.8725,"y":16},{"e":2.04,"x":3.8675,"y":6.5},{"e":2.04,"x":3.8575,"y":1.5},{"e":2.04,"x":3.843,"y":0},
      {"e":1.57,"x":3.9285,"y":0},{"e":1.57,"x":3.8892,"y":1.5},{"e":1.57,"x":3.8797,"y":16},{"e":1.57,"x":3.8762,"y":32},{"e":1.57,"x":3.8712,"y":16},{"e":1.57,"x":3.8662,"y":6.5},{"e":1.57,"x":3.8562,"y":1.5},{"e":1.57,"x":3.843,"y":0},
      {"e":1.08,"x":3.9285,"y":0},{"e":1.08,"x":3.8884,"y":1.5},{"e":1.08,"x":3.8789,"y":16},{"e":1.08,"x":3.8754,"y":32},{"e":1.08,"x":3.8704,"y":16},{"e":1.08,"x":3.8654,"y":6.5},{"e":1.08,"x":3.8554,"y":1.5},{"e":1.08,"x":3.843,"y":0},
      {"e":0.73,"x":3.9285,"y":0},{"e":0.73,"x":3.8879,"y":1.5},{"e":0.73,"x":3.8784,"y":15.5},{"e":0.73,"x":3.8749,"y":31},{"e":0.73,"x":3.8699,"y":15.5},{"e":0.73,"x":3.8649,"y":6},{"e":0.73,"x":3.8549,"y":1.5},{"e":0.73,"x":3.843,"y":0},
      {"e":0.37,"x":3.9285,"y":0},{"e":0.37,"x":3.8866,"y":1.5},{"e":0.37,"x":3.8771,"y":16},{"e":0.37,"x":3.8736,"y":32},{"e":0.37,"x":3.8686,"y":16},{"e":0.37,"x":3.8636,"y":6.5},{"e":0.37,"x":3.8536,"y":1.5},{"e":0.37,"x":3.843,"y":0},
      {"e":0,"x":3.9285,"y":0},{"e":0,"x":3.8866,"y":1},{"e":0,"x":3.8776,"y":7},{"e":0,"x":3.8736,"y":14},{"e":0,"x":3.8686,"y":7},{"e":0,"x":3.8636,"y":3},{"e":0,"x":3.8536,"y":1},{"e":0,"x":3.843,"y":0}
    ],
    "hc": [
      {"e":19,"x":2.949,"y":0},{"e":19,"x":2.935,"y":1.5},{"e":19,"x":2.924,"y":5},{"e":19,"x":2.9147,"y":10},{"e":19,"x":2.905,"y":5},{"e":19,"x":2.8835,"y":3},{"e":19,"x":2.862,"y":6.5},{"e":19,"x":2.8522,"y":13},{"e":19,"x":2.843,"y":6.5},{"e":19,"x":2.825,"y":1},{"e":19,"x":2.7255,"y":0},
      {"e":14.25,"x":2.949,"y":0},{"e":14.25,"x":2.9116,"y":1},{"e":14.25,"x":2.9006,"y":9},{"e":14.25,"x":2.8956,"y":18},{"e":14.25,"x":2.8886,"y":9},{"e":14.25,"x":2.8663,"y":2},{"e":14.25,"x":2.8419,"y":10.5},{"e":14.25,"x":2.8369,"y":21},{"e":14.25,"x":2.8299,"y":10.5},{"e":14.25,"x":2.8189,"y":1},{"e":14.25,"x":2.7255,"y":0},
      {"e":13.72,"x":2.949,"y":0},{"e":13.72,"x":2.9116,"y":1},{"e":13.72,"x":2.9006,"y":9},{"e":13.72,"x":2.8956,"y":18},{"e":13.72,"x":2.8886,"y":9},{"e":13.72,"x":2.8652,"y":2},{"e":13.72,"x":2.8397,"y":9},{"e":13.72,"x":2.8347,"y":18},{"e":13.72,"x":2.8277,"y":9},{"e":13.72,"x":2.8167,"y":1},{"e":13.72,"x":2.7255,"y":0},
      {"e":13.21,"x":2.949,"y":0},{"e":13.21,"x":2.9062,"y":1},{"e":13.21,"x":2.8952,"y":9},{"e":13.21,"x":2.8902,"y":18},{"e":13.21,"x":2.8832,"y":9},{"e":13.21,"x":2.8617,"y":2},{"e":13.21,"x":2.8381,"y":10},{"e":13.21,"x":2.8331,"y":20},{"e":13.21,"x":2.8261,"y":10},{"e":13.21,"x":2.8151,"y":1},{"e":13.21,"x":2.7255,"y":0},
      {"e":12.58,"x":2.949,"y":0},{"e":12.58,"x":2.9035,"y":1},{"e":12.58,"x":2.8925,"y":8.5},{"e":12.58,"x":2.8875,"y":17},{"e":12.58,"x":2.8805,"y":8.5},{"e":12.58,"x":2.8585,"y":2},{"e":12.58,"x":2.8344,"y":9},{"e":12.58,"x":2.8294,"y":18},{"e":12.58,"x":2.8224,"y":9},{"e":12.58,"x":2.8114,"y":1},{"e":12.58,"x":2.7255,"y":0},
      {"e":11.91,"x":2.949,"y":0},{"e":11.91,"x":2.9035,"y":1},{"e":11.91,"x":2.8925,"y":9},{"e":11.91,"x":2.8875,"y":18},{"e":11.91,"x":2.8805,"y":9},{"e":11.91,"x":2.8576,"y":2},{"e":11.91,"x":2.8327,"y":9.5},{"e":11.91,"x":2.8277,"y":19},{"e":11.91,"x":2.8207,"y":9.5},{"e":11.91,"x":2.8097,"y":1},{"e":11.91,"x":2.7255,"y":0},
      {"e":11.21,"x":2.949,"y":0},{"e":11.21,"x":2.9008,"y":1},{"e":11.21,"x":2.8898,"y":9},{"e":11.21,"x":2.8848,"y":18},{"e":11.21,"x":2.8778,"y":9},{"e":11.21,"x":2.8549,"y":2},{"e":11.21,"x":2.83,"y":10},{"e":11.21,"x":2.825,"y":20},{"e":11.21,"x":2.818,"y":10},{"e":11.21,"x":2.807,"y":1},{"e":11.21,"x":2.7255,"y":0},
      {"e":10.48,"x":2.949,"y":0},{"e":10.48,"x":2.8964,"y":1},{"e":10.48,"x":2.8854,"y":8.5},{"e":10.48,"x":2.8804,"y":17},{"e":10.48,"x":2.8734,"y":8.5},{"e":10.48,"x":2.8505,"y":2},{"e":10.48,"x":2.8256,"y":9},{"e":10.48,"x":2.8206,"y":18},{"e":10.48,"x":2.8136,"y":9},{"e":10.48,"x":2.8026,"y":1},{"e":10.48,"x":2.7255,"y":0},
      {"e":9.73,"x":2.949,"y":0},{"e":9.73,"x":2.8937,"y":1},{"e":9.73,"x":2.8827,"y":10},{"e":9.73,"x":2.8777,"y":20},{"e":9.73,"x":2.8707,"y":10},{"e":9.73,"x":2.8487,"y":2},{"e":9.73,"x":2.8246,"y":9.5},{"e":9.73,"x":2.8196,"y":19},{"e":9.73,"x":2.8126,"y":9.5},{"e":9.73,"x":2.8016,"y":1},{"e":9.73,"x":2.7255,"y":0},
      {"e":9,"x":2.949,"y":0},{"e":9,"x":2.8899,"y":1},{"e":9,"x":2.8789,"y":9.5},{"e":9,"x":2.8739,"y":19},{"e":9,"x":2.8669,"y":9.5},{"e":9,"x":2.8446,"y":2},{"e":9,"x":2.8202,"y":9.5},{"e":9,"x":2.8152,"y":19},{"e":9,"x":2.8082,"y":9.5},{"e":9,"x":2.7972,"y":1},{"e":9,"x":2.7255,"y":0},
      {"e":8.2,"x":2.949,"y":0},{"e":8.2,"x":2.8855,"y":1},{"e":8.2,"x":2.8745,"y":9},{"e":8.2,"x":2.8695,"y":18},{"e":8.2,"x":2.8625,"y":9},{"e":8.2,"x":2.8405,"y":2},{"e":8.2,"x":2.8164,"y":9.5},{"e":8.2,"x":2.8114,"y":19},{"e":8.2,"x":2.8044,"y":9.5},{"e":8.2,"x":2.7934,"y":1},{"e":8.2,"x":2.7255,"y":0},
      {"e":7.41,"x":2.949,"y":0},{"e":7.41,"x":2.8817,"y":1},{"e":7.41,"x":2.8707,"y":9},{"e":7.41,"x":2.8657,"y":18},{"e":7.41,"x":2.8587,"y":9},{"e":7.41,"x":2.8366,"y":2},{"e":7.41,"x":2.8125,"y":10.5},{"e":7.41,"x":2.8075,"y":21},{"e":7.41,"x":2.8005,"y":10.5},{"e":7.41,"x":2.7895,"y":1},{"e":7.41,"x":2.7255,"y":0},
      {"e":6.66,"x":2.949,"y":0},{"e":6.66,"x":2.879,"y":1},{"e":6.66,"x":2.868,"y":9},{"e":6.66,"x":2.863,"y":18},{"e":6.66,"x":2.856,"y":9},{"e":6.66,"x":2.8326,"y":2},{"e":6.66,"x":2.8071,"y":10.5},{"e":6.66,"x":2.8021,"y":21},{"e":6.66,"x":2.7951,"y":10.5},{"e":6.66,"x":2.7841,"y":1},{"e":6.66,"x":2.7255,"y":0},
      {"e":5.9,"x":2.949,"y":0},{"e":5.9,"x":2.8736,"y":1},{"e":5.9,"x":2.8626,"y":9.5},{"e":5.9,"x":2.8576,"y":19},{"e":5.9,"x":2.8506,"y":9.5},{"e":5.9,"x":2.8277,"y":2},{"e":5.9,"x":2.8027,"y":10},{"e":5.9,"x":2.7977,"y":20},{"e":5.9,"x":2.7907,"y":10},{"e":5.9,"x":2.7797,"y":1},{"e":5.9,"x":2.7255,"y":0},
      {"e":5.23,"x":2.949,"y":0},{"e":5.23,"x":2.8708,"y":1},{"e":5.23,"x":2.8598,"y":9.5},{"e":5.23,"x":2.8548,"y":19},{"e":5.23,"x":2.8478,"y":9.5},{"e":5.23,"x":2.825,"y":2},{"e":5.23,"x":2.8001,"y":11},{"e":5.23,"x":2.7951,"y":22},{"e":5.23,"x":2.7881,"y":11},{"e":5.23,"x":2.7771,"y":1},{"e":5.23,"x":2.7255,"y":0},
      {"e":4.5,"x":2.949,"y":0},{"e":4.5,"x":2.8654,"y":1},{"e":4.5,"x":2.8544,"y":9.5},{"e":4.5,"x":2.8494,"y":19},{"e":4.5,"x":2.8424,"y":9.5},{"e":4.5,"x":2.8195,"y":2},{"e":4.5,"x":2.7946,"y":10},{"e":4.5,"x":2.7896,"y":20},{"e":4.5,"x":2.7826,"y":10},{"e":4.5,"x":2.7716,"y":1},{"e":4.5,"x":2.7255,"y":0},
      {"e":3.8,"x":2.949,"y":0},{"e":3.8,"x":2.8617,"y":1},{"e":3.8,"x":2.8507,"y":9.5},{"e":3.8,"x":2.8457,"y":19},{"e":3.8,"x":2.8387,"y":9.5},{"e":3.8,"x":2.8158,"y":2},{"e":3.8,"x":2.7908,"y":10},{"e":3.8,"x":2.7858,"y":20},{"e":3.8,"x":2.7788,"y":10},{"e":3.8,"x":2.7678,"y":1},{"e":3.8,"x":2.7255,"y":0},
      {"e":3.17,"x":2.949,"y":0},{"e":3.17,"x":2.8573,"y":1},{"e":3.17,"x":2.8463,"y":9.5},{"e":3.17,"x":2.8413,"y":19},{"e":3.17,"x":2.8343,"y":9.5},{"e":3.17,"x":2.8114,"y":2},{"e":3.17,"x":2.7864,"y":10.5},{"e":3.17,"x":2.7814,"y":21},{"e":3.17,"x":2.7744,"y":10.5},{"e":3.17,"x":2.7634,"y":1},{"e":3.17,"x":2.7255,"y":0},
      {"e":2.62,"x":2.949,"y":0},{"e":2.62,"x":2.8545,"y":1},{"e":2.62,"x":2.8435,"y":10},{"e":2.62,"x":2.8385,"y":20},{"e":2.62,"x":2.8315,"y":10},{"e":2.62,"x":2.8087,"y":2},{"e":2.62,"x":2.7838,"y":9.5},{"e":2.62,"x":2.7788,"y":19},{"e":2.62,"x":2.7718,"y":9.5},{"e":2.62,"x":2.7608,"y":1},{"e":2.62,"x":2.7255,"y":0},
      {"e":2.04,"x":2.949,"y":0},{"e":2.04,"x":2.8507,"y":1},{"e":2.04,"x":2.8397,"y":8.5},{"e":2.04,"x":2.8347,"y":17},{"e":2.04,"x":2.8277,"y":8.5},{"e":2.04,"x":2.8048,"y":2},{"e":2.04,"x":2.7799,"y":11},{"e":2.04,"x":2.7749,"y":22},{"e":2.04,"x":2.7679,"y":11},{"e":2.04,"x":2.7569,"y":1},{"e":2.04,"x":2.7255,"y":0},
      {"e":1.57,"x":2.949,"y":0},{"e":1.57,"x":2.8475,"y":1},{"e":1.57,"x":2.8365,"y":8.5},{"e":1.57,"x":2.8315,"y":17},{"e":1.57,"x":2.8245,"y":8.5},{"e":1.57,"x":2.8016,"y":2},{"e":1.57,"x":2.7766,"y":11},{"e":1.57,"x":2.7716,"y":22},{"e":1.57,"x":2.7646,"y":11},{"e":1.57,"x":2.7536,"y":1},{"e":1.57,"x":2.7255,"y":0},
      {"e":1.08,"x":2.949,"y":0},{"e":1.08,"x":2.8454,"y":1},{"e":1.08,"x":2.8344,"y":9},{"e":1.08,"x":2.8294,"y":18},{"e":1.08,"x":2.8224,"y":9},{"e":1.08,"x":2.7987,"y":2},{"e":1.08,"x":2.7729,"y":9},{"e":1.08,"x":2.7679,"y":18},{"e":1.08,"x":2.7609,"y":9},{"e":1.08,"x":2.7499,"y":1},{"e":1.08,"x":2.7255,"y":0},
      {"e":0.73,"x":2.949,"y":0},{"e":0.73,"x":2.8421,"y":1},{"e":0.73,"x":2.8311,"y":9},{"e":0.73,"x":2.8261,"y":18},{"e":0.73,"x":2.8191,"y":9},{"e":0.73,"x":2.7956,"y":2},{"e":0.73,"x":2.7701,"y":10},{"e":0.73,"x":2.7651,"y":20},{"e":0.73,"x":2.7581,"y":10},{"e":0.73,"x":2.7471,"y":1},{"e":0.73,"x":2.7255,"y":0},
      {"e":0.37,"x":2.949,"y":0},{"e":0.37,"x":2.841,"y":1},{"e":0.37,"x":2.83,"y":8.5},{"e":0.37,"x":2.825,"y":17},{"e":0.37,"x":2.818,"y":8.5},{"e":0.37,"x":2.7946,"y":2},{"e":0.37,"x":2.7691,"y":9},{"e":0.37,"x":2.7641,"y":18},{"e":0.37,"x":2.7571,"y":9},{"e":0.37,"x":2.7461,"y":1},{"e":0.37,"x":2.7255,"y":0},
      {"e":0,"x":2.949,"y":0},{"e":0,"x":2.8382,"y":0.5},{"e":0,"x":2.8272,"y":5},{"e":0,"x":2.8222,"y":10},{"e":0,"x":2.8152,"y":5},{"e":0,"x":2.7932,"y":1},{"e":0,"x":2.7691,"y":5},{"e":0,"x":2.7641,"y":10},{"e":0,"x":2.7571,"y":5},{"e":0,"x":2.7461,"y":0.5},{"e":0,"x":2.7255,"y":0}
    ],
    "hb": [
      {"e":19,"x":1.6205,"y":0.5},{"e":19,"x":1.612,"y":1},{"e":19,"x":1.6035,"y":5},{"e":19,"x":1.6005,"y":6},{"e":19,"x":1.5977,"y":10},{"e":19,"x":1.5955,"y":5},{"e":19,"x":1.592,"y":2},{"e":19,"x":1.585,"y":1},{"e":19,"x":1.563,"y":0.8},{"e":19,"x":1.5555,"y":2},{"e":19,"x":1.5535,"y":4},{"e":19,"x":1.549,"y":5.5},{"e":19,"x":1.5464,"y":9},{"e":19,"x":1.5442,"y":4.5},{"e":19,"x":1.541,"y":1.5},{"e":19,"x":1.534,"y":0.8},{"e":19,"x":1.5108,"y":0.3},
      {"e":14.25,"x":1.6205,"y":0.5},{"e":14.25,"x":1.6104,"y":0.9},{"e":14.25,"x":1.6034,"y":3.6},{"e":14.25,"x":1.6002,"y":14},{"e":14.25,"x":1.5984,"y":28},{"e":14.25,"x":1.5966,"y":14},{"e":14.25,"x":1.5934,"y":3.6},{"e":14.25,"x":1.5864,"y":1.5},{"e":14.25,"x":1.566,"y":1.2},{"e":14.25,"x":1.563,"y":3.5},{"e":14.25,"x":1.56,"y":1.2},{"e":14.25,"x":1.5576,"y":1.5},{"e":14.25,"x":1.5526,"y":3.5},{"e":14.25,"x":1.5494,"y":13.5},{"e":14.25,"x":1.5476,"y":27},{"e":14.25,"x":1.5458,"y":13.5},{"e":14.25,"x":1.5426,"y":3.5},{"e":14.25,"x":1.5356,"y":1},{"e":14.25,"x":1.5108,"y":0.3},
      {"e":13.72,"x":1.6205,"y":0.5},{"e":13.72,"x":1.6097,"y":0.9},{"e":13.72,"x":1.6027,"y":3.5},{"e":13.72,"x":1.5995,"y":13.5},{"e":13.72,"x":1.5977,"y":27},{"e":13.72,"x":1.5959,"y":13.5},{"e":13.72,"x":1.5927,"y":3.5},{"e":13.72,"x":1.5857,"y":1.5},{"e":13.72,"x":1.566,"y":1.2},{"e":13.72,"x":1.563,"y":3.5},{"e":13.72,"x":1.56,"y":1.2},{"e":13.72,"x":1.5569,"y":1.5},{"e":13.72,"x":1.5519,"y":3.5},{"e":13.72,"x":1.5487,"y":13.5},{"e":13.72,"x":1.5469,"y":27},{"e":13.72,"x":1.5451,"y":13.5},{"e":13.72,"x":1.5419,"y":3.5},{"e":13.72,"x":1.5349,"y":1},{"e":13.72,"x":1.5108,"y":0.3},
      {"e":13.21,"x":1.6205,"y":0.5},{"e":13.21,"x":1.6092,"y":0.9},{"e":13.21,"x":1.6022,"y":3.5},{"e":13.21,"x":1.599,"y":13.5},{"e":13.21,"x":1.5972,"y":27},{"e":13.21,"x":1.5954,"y":13.5},{"e":13.21,"x":1.5922,"y":3.5},{"e":13.21,"x":1.5852,"y":1.5},{"e":13.21,"x":1.566,"y":1.2},{"e":13.21,"x":1.563,"y":3.5},{"e":13.21,"x":1.56,"y":1.2},{"e":13.21,"x":1.5564,"y":1.5},{"e":13.21,"x":1.5514,"y":3.5},{"e":13.21,"x":1.5482,"y":13.5},{"e":13.21,"x":1.5464,"y":27},{"e":13.21,"x":1.5446,"y":13.5},{"e":13.21,"x":1.5414,"y":3.5},{"e":13.21,"x":1.5344,"y":1},{"e":13.21,"x":1.5108,"y":0.3},
      {"e":12.58,"x":1.6205,"y":0.5},{"e":12.58,"x":1.6087,"y":0.9},{"e":12.58,"x":1.6017,"y":3.6},{"e":12.58,"x":1.5985,"y":14},{"e":12.58,"x":1.5967,"y":28},{"e":12.58,"x":1.5949,"y":14},{"e":12.58,"x":1.5917,"y":3.6},{"e":12.58,"x":1.5847,"y":1.5},{"e":12.58,"x":1.566,"y":1.2},{"e":12.58,"x":1.563,"y":3.5},{"e":12.58,"x":1.56,"y":1.2},{"e":12.58,"x":1.5562,"y":1.5},{"e":12.58,"x":1.5512,"y":3.6},{"e":12.58,"x":1.548,"y":14},{"e":12.58,"x":1.5462,"y":28},{"e":12.58,"x":1.5444,"y":14},{"e":12.58,"x":1.5412,"y":3.6},{"e":12.58,"x":1.5342,"y":1},{"e":12.58,"x":1.5108,"y":0.3},
      {"e":11.91,"x":1.6205,"y":0.5},{"e":11.91,"x":1.608,"y":0.9},{"e":11.91,"x":1.601,"y":3.5},{"e":11.91,"x":1.5978,"y":13.5},{"e":11.91,"x":1.596,"y":27},{"e":11.91,"x":1.5942,"y":13.5},{"e":11.91,"x":1.591,"y":3.5},{"e":11.91,"x":1.584,"y":1.5},{"e":11.91,"x":1.566,"y":1.2},{"e":11.91,"x":1.563,"y":3.5},{"e":11.91,"x":1.56,"y":1.2},{"e":11.91,"x":1.5557,"y":1.5},{"e":11.91,"x":1.5507,"y":3.5},{"e":11.91,"x":1.5475,"y":13.5},{"e":11.91,"x":1.5457,"y":27},{"e":11.91,"x":1.5439,"y":13.5},{"e":11.91,"x":1.5407,"y":3.5},{"e":11.91,"x":1.5337,"y":1},{"e":11.91,"x":1.5108,"y":0.3},
      {"e":11.21,"x":1.6205,"y":0.5},{"e":11.21,"x":1.608,"y":0.9},{"e":11.21,"x":1.601,"y":3.5},{"e":11.21,"x":1.5978,"y":13.5},{"e":11.21,"x":1.596,"y":27},{"e":11.21,"x":1.5942,"y":13.5},{"e":11.21,"x":1.591,"y":3.5},{"e":11.21,"x":1.584,"y":1.5},{"e":11.21,"x":1.566,"y":1.2},{"e":11.21,"x":1.563,"y":3.5},{"e":11.21,"x":1.56,"y":1.2},{"e":11.21,"x":1.5553,"y":1.5},{"e":11.21,"x":1.5503,"y":3.5},{"e":11.21,"x":1.5471,"y":13.5},{"e":11.21,"x":1.5453,"y":27},{"e":11.21,"x":1.5435,"y":13.5},{"e":11.21,"x":1.5403,"y":3.5},{"e":11.21,"x":1.5333,"y":1},{"e":11.21,"x":1.5108,"y":0.3},
      {"e":10.48,"x":1.6205,"y":0.5},{"e":10.48,"x":1.6068,"y":0.9},{"e":10.48,"x":1.5998,"y":3.5},{"e":10.48,"x":1.5966,"y":13.5},{"e":10.48,"x":1.5948,"y":27},{"e":10.48,"x":1.593,"y":13.5},{"e":10.48,"x":1.5898,"y":3.5},{"e":10.48,"x":1.5828,"y":1.5},{"e":10.48,"x":1.566,"y":1.2},{"e":10.48,"x":1.563,"y":3.5},{"e":10.48,"x":1.56,"y":1.2},{"e":10.48,"x":1.5545,"y":1.5},{"e":10.48,"x":1.5495,"y":3.5},{"e":10.48,"x":1.5463,"y":13.5},{"e":10.48,"x":1.5445,"y":27},{"e":10.48,"x":1.5427,"y":13.5},{"e":10.48,"x":1.5395,"y":3.5},{"e":10.48,"x":1.5325,"y":1},{"e":10.48,"x":1.5108,"y":0.3},
      {"e":9.73,"x":1.6205,"y":0.5},{"e":9.73,"x":1.6068,"y":0.9},{"e":9.73,"x":1.5998,"y":3.5},{"e":9.73,"x":1.5966,"y":13.5},{"e":9.73,"x":1.5948,"y":27},{"e":9.73,"x":1.593,"y":13.5},{"e":9.73,"x":1.5898,"y":3.5},{"e":9.73,"x":1.5828,"y":1.5},{"e":9.73,"x":1.566,"y":1.2},{"e":9.73,"x":1.563,"y":4.5},{"e":9.73,"x":1.56,"y":1.2},{"e":9.73,"x":1.5545,"y":1.5},{"e":9.73,"x":1.5495,"y":3.6},{"e":9.73,"x":1.5463,"y":14},{"e":9.73,"x":1.5445,"y":28},{"e":9.73,"x":1.5427,"y":14},{"e":9.73,"x":1.5395,"y":3.6},{"e":9.73,"x":1.5325,"y":1},{"e":9.73,"x":1.5108,"y":0.3},
      {"e":9,"x":1.6205,"y":0.5},{"e":9,"x":1.6063,"y":0.9},{"e":9,"x":1.5993,"y":3.5},{"e":9,"x":1.5961,"y":13.5},{"e":9,"x":1.5943,"y":27},{"e":9,"x":1.5925,"y":13.5},{"e":9,"x":1.5893,"y":3.5},{"e":9,"x":1.5823,"y":1.5},{"e":9,"x":1.566,"y":1.2},{"e":9,"x":1.563,"y":4.5},{"e":9,"x":1.56,"y":1.2},{"e":9,"x":1.554,"y":1.5},{"e":9,"x":1.549,"y":3.6},{"e":9,"x":1.5458,"y":14},{"e":9,"x":1.544,"y":28},{"e":9,"x":1.5422,"y":14},{"e":9,"x":1.539,"y":3.6},{"e":9,"x":1.532,"y":1},{"e":9,"x":1.5108,"y":0.3},
      {"e":8.2,"x":1.6205,"y":0.5},{"e":8.2,"x":1.6044,"y":0.9},{"e":8.2,"x":1.5974,"y":3.6},{"e":8.2,"x":1.5942,"y":14},{"e":8.2,"x":1.5924,"y":28},{"e":8.2,"x":1.5906,"y":14},{"e":8.2,"x":1.5874,"y":3.6},{"e":8.2,"x":1.5804,"y":1.5},{"e":8.2,"x":1.566,"y":1.2},{"e":8.2,"x":1.563,"y":4.5},{"e":8.2,"x":1.56,"y":1.2},{"e":8.2,"x":1.5528,"y":1.5},{"e":8.2,"x":1.5478,"y":3.6},{"e":8.2,"x":1.5446,"y":14},{"e":8.2,"x":1.5428,"y":28},{"e":8.2,"x":1.541,"y":14},{"e":8.2,"x":1.5378,"y":3.6},{"e":8.2,"x":1.5308,"y":1},{"e":8.2,"x":1.5108,"y":0.3},
      {"e":7.41,"x":1.6205,"y":0.5},{"e":7.41,"x":1.6037,"y":0.9},{"e":7.41,"x":1.5967,"y":3.6},{"e":7.41,"x":1.5935,"y":14},{"e":7.41,"x":1.5917,"y":28},{"e":7.41,"x":1.5899,"y":14},{"e":7.41,"x":1.5867,"y":3.6},{"e":7.41,"x":1.5797,"y":1.5},{"e":7.41,"x":1.566,"y":1.2},{"e":7.41,"x":1.563,"y":4.5},{"e":7.41,"x":1.56,"y":1.2},{"e":7.41,"x":1.5524,"y":1.5},{"e":7.41,"x":1.5474,"y":3.6},{"e":7.41,"x":1.5442,"y":14},{"e":7.41,"x":1.5424,"y":28},{"e":7.41,"x":1.5406,"y":14},{"e":7.41,"x":1.5374,"y":3.6},{"e":7.41,"x":1.5304,"y":1},{"e":7.41,"x":1.5108,"y":0.3},
      {"e":6.66,"x":1.6205,"y":0.5},{"e":6.66,"x":1.6026,"y":0.9},{"e":6.66,"x":1.5956,"y":3.6},{"e":6.66,"x":1.5924,"y":14},{"e":6.66,"x":1.5906,"y":28},{"e":6.66,"x":1.5888,"y":14},{"e":6.66,"x":1.5856,"y":3.6},{"e":6.66,"x":1.5786,"y":1.5},{"e":6.66,"x":1.566,"y":1.2},{"e":6.66,"x":1.563,"y":4.5},{"e":6.66,"x":1.56,"y":1.2},{"e":6.66,"x":1.5521,"y":1.5},{"e":6.66,"x":1.5471,"y":3.8},{"e":6.66,"x":1.5439,"y":14.5},{"e":6.66,"x":1.5421,"y":29},{"e":6.66,"x":1.5403,"y":14.5},{"e":6.66,"x":1.5371,"y":3.8},{"e":6.66,"x":1.5301,"y":1},{"e":6.66,"x":1.5108,"y":0.3},
      {"e":5.9,"x":1.6205,"y":0.5},{"e":5.9,"x":1.6016,"y":0.9},{"e":5.9,"x":1.5946,"y":3.8},{"e":5.9,"x":1.5914,"y":14.5},{"e":5.9,"x":1.5896,"y":29},{"e":5.9,"x":1.5878,"y":14.5},{"e":5.9,"x":1.5846,"y":3.8},{"e":5.9,"x":1.5776,"y":1.5},{"e":5.9,"x":1.566,"y":1.2},{"e":5.9,"x":1.563,"y":4.5},{"e":5.9,"x":1.56,"y":1.2},{"e":5.9,"x":1.551,"y":1.5},{"e":5.9,"x":1.546,"y":3.8},{"e":5.9,"x":1.5428,"y":14.5},{"e":5.9,"x":1.541,"y":29},{"e":5.9,"x":1.5392,"y":14.5},{"e":5.9,"x":1.536,"y":3.8},{"e":5.9,"x":1.529,"y":1},{"e":5.9,"x":1.5108,"y":0.3},
      {"e":5.23,"x":1.6205,"y":0.5},{"e":5.23,"x":1.6009,"y":0.9},{"e":5.23,"x":1.5939,"y":3.8},{"e":5.23,"x":1.5907,"y":14.5},{"e":5.23,"x":1.5889,"y":29},{"e":5.23,"x":1.5871,"y":14.5},{"e":5.23,"x":1.5839,"y":3.8},{"e":5.23,"x":1.5769,"y":1.5},{"e":5.23,"x":1.566,"y":1.2},{"e":5.23,"x":1.563,"y":4.5},{"e":5.23,"x":1.56,"y":1.2},{"e":5.23,"x":1.5505,"y":1.5},{"e":5.23,"x":1.5455,"y":3.6},{"e":5.23,"x":1.5423,"y":14},{"e":5.23,"x":1.5405,"y":28},{"e":5.23,"x":1.5387,"y":14},{"e":5.23,"x":1.5355,"y":3.6},{"e":5.23,"x":1.5285,"y":1},{"e":5.23,"x":1.5108,"y":0.3},
      {"e":4.5,"x":1.6205,"y":0.5},{"e":4.5,"x":1.6002,"y":0.9},{"e":4.5,"x":1.5932,"y":3.8},{"e":4.5,"x":1.59,"y":14.5},{"e":4.5,"x":1.5882,"y":29},{"e":4.5,"x":1.5864,"y":14.5},{"e":4.5,"x":1.5832,"y":3.8},{"e":4.5,"x":1.5762,"y":1.5},{"e":4.5,"x":1.566,"y":1.2},{"e":4.5,"x":1.563,"y":5.5},{"e":4.5,"x":1.56,"y":1.2},{"e":4.5,"x":1.55,"y":1.5},{"e":4.5,"x":1.545,"y":3.8},{"e":4.5,"x":1.5418,"y":14.5},{"e":4.5,"x":1.54,"y":29},{"e":4.5,"x":1.5382,"y":14.5},{"e":4.5,"x":1.535,"y":3.8},{"e":4.5,"x":1.528,"y":1},{"e":4.5,"x":1.5108,"y":0.3},
      {"e":3.8,"x":1.6205,"y":0.5},{"e":3.8,"x":1.5993,"y":0.9},{"e":3.8,"x":1.5923,"y":3.8},{"e":3.8,"x":1.5891,"y":14.5},{"e":3.8,"x":1.5873,"y":29},{"e":3.8,"x":1.5855,"y":14.5},{"e":3.8,"x":1.5823,"y":3.8},{"e":3.8,"x":1.5753,"y":1.5},{"e":3.8,"x":1.566,"y":1.2},{"e":3.8,"x":1.563,"y":5.5},{"e":3.8,"x":1.56,"y":1.2},{"e":3.8,"x":1.5493,"y":1.5},{"e":3.8,"x":1.5443,"y":3.9},{"e":3.8,"x":1.5411,"y":15},{"e":3.8,"x":1.5393,"y":30},{"e":3.8,"x":1.5375,"y":15},{"e":3.8,"x":1.5343,"y":3.9},{"e":3.8,"x":1.5273,"y":1},{"e":3.8,"x":1.5108,"y":0.3},
      {"e":3.17,"x":1.6205,"y":0.5},{"e":3.17,"x":1.5985,"y":0.9},{"e":3.17,"x":1.5915,"y":3.9},{"e":3.17,"x":1.5883,"y":15},{"e":3.17,"x":1.5865,"y":30},{"e":3.17,"x":1.5847,"y":15},{"e":3.17,"x":1.5815,"y":3.9},{"e":3.17,"x":1.5745,"y":1.5},{"e":3.17,"x":1.566,"y":1.2},{"e":3.17,"x":1.563,"y":5.5},{"e":3.17,"x":1.56,"y":1.2},{"e":3.17,"x":1.5486,"y":1.5},{"e":3.17,"x":1.5436,"y":4},{"e":3.17,"x":1.5404,"y":15.5},{"e":3.17,"x":1.5386,"y":31},{"e":3.17,"x":1.5368,"y":15.5},{"e":3.17,"x":1.5336,"y":4},{"e":3.17,"x":1.5266,"y":1},{"e":3.17,"x":1.5108,"y":0.3},
      {"e":2.62,"x":1.6205,"y":0.5},{"e":2.62,"x":1.5978,"y":0.9},{"e":2.62,"x":1.5908,"y":4},{"e":2.62,"x":1.5876,"y":15.5},{"e":2.62,"x":1.5858,"y":31},{"e":2.62,"x":1.584,"y":15.5},{"e":2.62,"x":1.5808,"y":4},{"e":2.62,"x":1.5738,"y":1.5},{"e":2.62,"x":1.566,"y":1.2},{"e":2.62,"x":1.563,"y":5.5},{"e":2.62,"x":1.56,"y":1.2},{"e":2.62,"x":1.5481,"y":1.5},{"e":2.62,"x":1.5431,"y":4},{"e":2.62,"x":1.5399,"y":15.5},{"e":2.62,"x":1.5381,"y":31},{"e":2.62,"x":1.5363,"y":15.5},{"e":2.62,"x":1.5331,"y":4},{"e":2.62,"x":1.5261,"y":1},{"e":2.62,"x":1.5108,"y":0.3},
      {"e":2.04,"x":1.6205,"y":0.5},{"e":2.04,"x":1.5969,"y":0.9},{"e":2.04,"x":1.5899,"y":3.9},{"e":2.04,"x":1.5867,"y":15},{"e":2.04,"x":1.5849,"y":30},{"e":2.04,"x":1.5831,"y":15},{"e":2.04,"x":1.5799,"y":3.9},{"e":2.04,"x":1.5729,"y":1.5},{"e":2.04,"x":1.566,"y":1.2},{"e":2.04,"x":1.563,"y":6.5},{"e":2.04,"x":1.56,"y":1.2},{"e":2.04,"x":1.5481,"y":1.5},{"e":2.04,"x":1.5431,"y":4.2},{"e":2.04,"x":1.5399,"y":16},{"e":2.04,"x":1.5381,"y":32},{"e":2.04,"x":1.5363,"y":16},{"e":2.04,"x":1.5331,"y":4.2},{"e":2.04,"x":1.5261,"y":1},{"e":2.04,"x":1.5108,"y":0.3},
      {"e":1.57,"x":1.6205,"y":0.5},{"e":1.57,"x":1.5962,"y":0.9},{"e":1.57,"x":1.5892,"y":4},{"e":1.57,"x":1.586,"y":15.5},{"e":1.57,"x":1.5842,"y":31},{"e":1.57,"x":1.5824,"y":15.5},{"e":1.57,"x":1.5792,"y":4},{"e":1.57,"x":1.5722,"y":1.5},{"e":1.57,"x":1.566,"y":1.2},{"e":1.57,"x":1.563,"y":6.5},{"e":1.57,"x":1.56,"y":1.2},{"e":1.57,"x":1.5475,"y":1.5},{"e":1.57,"x":1.5425,"y":4.2},{"e":1.57,"x":1.5393,"y":16},{"e":1.57,"x":1.5375,"y":32},{"e":1.57,"x":1.5357,"y":16},{"e":1.57,"x":1.5325,"y":4.2},{"e":1.57,"x":1.5255,"y":1},{"e":1.57,"x":1.5108,"y":0.3},
      {"e":1.08,"x":1.6205,"y":0.5},{"e":1.08,"x":1.5957,"y":0.9},{"e":1.08,"x":1.5887,"y":4.2},{"e":1.08,"x":1.5855,"y":16},{"e":1.08,"x":1.5837,"y":32},{"e":1.08,"x":1.5819,"y":16},{"e":1.08,"x":1.5787,"y":4.2},{"e":1.08,"x":1.5717,"y":1.5},{"e":1.08,"x":1.566,"y":1.2},{"e":1.08,"x":1.563,"y":6.5},{"e":1.08,"x":1.56,"y":1.2},{"e":1.08,"x":1.5475,"y":1.5},{"e":1.08,"x":1.5425,"y":4.3},{"e":1.08,"x":1.5393,"y":16.5},{"e":1.08,"x":1.5375,"y":33},{"e":1.08,"x":1.5357,"y":16.5},{"e":1.08,"x":1.5325,"y":4.3},{"e":1.08,"x":1.5255,"y":1},{"e":1.08,"x":1.5108,"y":0.3},
      {"e":0.73,"x":1.6205,"y":0.5},{"e":0.73,"x":1.5957,"y":0.9},{"e":0.73,"x":1.5887,"y":4},{"e":0.73,"x":1.5855,"y":15.5},{"e":0.73,"x":1.5837,"y":31},{"e":0.73,"x":1.5819,"y":15.5},{"e":0.73,"x":1.5787,"y":4},{"e":0.73,"x":1.5717,"y":1.5},{"e":0.73,"x":1.566,"y":1.2},{"e":0.73,"x":1.563,"y":6.5},{"e":0.73,"x":1.56,"y":1.2},{"e":0.73,"x":1.547,"y":1.5},{"e":0.73,"x":1.542,"y":4.3},{"e":0.73,"x":1.5388,"y":16.5},{"e":0.73,"x":1.537,"y":33},{"e":0.73,"x":1.5352,"y":16.5},{"e":0.73,"x":1.532,"y":4.3},{"e":0.73,"x":1.525,"y":1},{"e":0.73,"x":1.5108,"y":0.3},
      {"e":0.37,"x":1.6205,"y":0.5},{"e":0.37,"x":1.5957,"y":0.9},{"e":0.37,"x":1.5887,"y":4.3},{"e":0.37,"x":1.5855,"y":16.5},{"e":0.37,"x":1.5837,"y":33},{"e":0.37,"x":1.5819,"y":16.5},{"e":0.37,"x":1.5787,"y":4.3},{"e":0.37,"x":1.5717,"y":1.5},{"e":0.37,"x":1.566,"y":1.2},{"e":0.37,"x":1.563,"y":7.5},{"e":0.37,"x":1.56,"y":1.2},{"e":0.37,"x":1.547,"y":1.5},{"e":0.37,"x":1.542,"y":4.3},{"e":0.37,"x":1.5388,"y":16.5},{"e":0.37,"x":1.537,"y":33},{"e":0.37,"x":1.5352,"y":16.5},{"e":0.37,"x":1.532,"y":4.3},{"e":0.37,"x":1.525,"y":1},{"e":0.37,"x":1.5108,"y":0.3},
      {"e":0,"x":1.6205,"y":0.3},{"e":0,"x":1.595,"y":0.5},{"e":0,"x":1.588,"y":2.2},{"e":0,"x":1.5848,"y":8.5},{"e":0,"x":1.583,"y":17},{"e":0,"x":1.5812,"y":8.5},{"e":0,"x":1.578,"y":2.2},{"e":0,"x":1.571,"y":1},{"e":0,"x":1.566,"y":0.8},{"e":0,"x":1.563,"y":5},{"e":0,"x":1.56,"y":0.8},{"e":0,"x":1.5465,"y":1},{"e":0,"x":1.5415,"y":2.2},{"e":0,"x":1.5383,"y":8.5},{"e":0,"x":1.5365,"y":17},{"e":0,"x":1.5347,"y":8.5},{"e":0,"x":1.5315,"y":2.2},{"e":0,"x":1.5245,"y":0.5},{"e":0,"x":1.5108,"y":0.2}
    ],
    "ha": [
      {"e":19,"x":1.3207,"y":0.3},{"e":19,"x":1.307,"y":1},{"e":19,"x":1.3009,"y":4},{"e":19,"x":1.2955,"y":5},{"e":19,"x":1.2923,"y":10},{"e":19,"x":1.2895,"y":5},{"e":19,"x":1.285,"y":1.5},{"e":19,"x":1.274,"y":0.8},{"e":19,"x":1.24,"y":0.3},
      {"e":14.25,"x":1.3207,"y":0.3},{"e":14.25,"x":1.3049,"y":1},{"e":14.25,"x":1.2959,"y":3.8},{"e":14.25,"x":1.2919,"y":14.5},{"e":14.25,"x":1.2899,"y":29},{"e":14.25,"x":1.2874,"y":14.5},{"e":14.25,"x":1.2829,"y":4.4},{"e":14.25,"x":1.2719,"y":1.2},{"e":14.25,"x":1.24,"y":0.3},
      {"e":13.72,"x":1.3207,"y":0.3},{"e":13.72,"x":1.3041,"y":1},{"e":13.72,"x":1.2951,"y":3.8},{"e":13.72,"x":1.2911,"y":14.5},{"e":13.72,"x":1.2891,"y":29},{"e":13.72,"x":1.2866,"y":14.5},{"e":13.72,"x":1.2821,"y":4.4},{"e":13.72,"x":1.2711,"y":1.2},{"e":13.72,"x":1.24,"y":0.3},
      {"e":13.21,"x":1.3207,"y":0.3},{"e":13.21,"x":1.3032,"y":1},{"e":13.21,"x":1.2942,"y":3.8},{"e":13.21,"x":1.2902,"y":14.5},{"e":13.21,"x":1.2882,"y":29},{"e":13.21,"x":1.2857,"y":14.5},{"e":13.21,"x":1.2812,"y":4.4},{"e":13.21,"x":1.2702,"y":1.2},{"e":13.21,"x":1.24,"y":0.3},
      {"e":12.58,"x":1.3207,"y":0.3},{"e":12.58,"x":1.3017,"y":1},{"e":12.58,"x":1.2927,"y":3.9},{"e":12.58,"x":1.2887,"y":15},{"e":12.58,"x":1.2867,"y":30},{"e":12.58,"x":1.2842,"y":15},{"e":12.58,"x":1.2797,"y":4.5},{"e":12.58,"x":1.2687,"y":1.2},{"e":12.58,"x":1.24,"y":0.3},
      {"e":11.91,"x":1.3207,"y":0.3},{"e":11.91,"x":1.3012,"y":1},{"e":11.91,"x":1.2922,"y":3.9},{"e":11.91,"x":1.2882,"y":15},{"e":11.91,"x":1.2862,"y":30},{"e":11.91,"x":1.2837,"y":15},{"e":11.91,"x":1.2792,"y":4.5},{"e":11.91,"x":1.2682,"y":1.2},{"e":11.91,"x":1.24,"y":0.3},
      {"e":11.21,"x":1.3207,"y":0.3},{"e":11.21,"x":1.3,"y":1},{"e":11.21,"x":1.291,"y":3.6},{"e":11.21,"x":1.287,"y":14},{"e":11.21,"x":1.285,"y":28},{"e":11.21,"x":1.2825,"y":14},{"e":11.21,"x":1.278,"y":4.2},{"e":11.21,"x":1.267,"y":1.2},{"e":11.21,"x":1.24,"y":0.3},
      {"e":10.48,"x":1.3207,"y":0.3},{"e":10.48,"x":1.2983,"y":1},{"e":10.48,"x":1.2893,"y":3.6},{"e":10.48,"x":1.2853,"y":14},{"e":10.48,"x":1.2833,"y":28},{"e":10.48,"x":1.2808,"y":14},{"e":10.48,"x":1.2763,"y":4.2},{"e":10.48,"x":1.2653,"y":1.2},{"e":10.48,"x":1.24,"y":0.3},
      {"e":9.73,"x":1.3207,"y":0.3},{"e":9.73,"x":1.2976,"y":1},{"e":9.73,"x":1.2886,"y":3.8},{"e":9.73,"x":1.2846,"y":14.5},{"e":9.73,"x":1.2826,"y":29},{"e":9.73,"x":1.2801,"y":14.5},{"e":9.73,"x":1.2756,"y":4.4},{"e":9.73,"x":1.2646,"y":1.2},{"e":9.73,"x":1.24,"y":0.3},
      {"e":9,"x":1.3207,"y":0.3},{"e":9,"x":1.2952,"y":1},{"e":9,"x":1.2862,"y":3.6},{"e":9,"x":1.2822,"y":14},{"e":9,"x":1.2802,"y":28},{"e":9,"x":1.2777,"y":14},{"e":9,"x":1.2732,"y":4.2},{"e":9,"x":1.2622,"y":1.2},{"e":9,"x":1.24,"y":0.3},
      {"e":8.2,"x":1.3207,"y":0.3},{"e":8.2,"x":1.2939,"y":1},{"e":8.2,"x":1.2849,"y":3.6},{"e":8.2,"x":1.2809,"y":14},{"e":8.2,"x":1.2789,"y":28},{"e":8.2,"x":1.2764,"y":14},{"e":8.2,"x":1.2719,"y":4.2},{"e":8.2,"x":1.2609,"y":1.2},{"e":8.2,"x":1.24,"y":0.3},
      {"e":7.41,"x":1.3207,"y":0.3},{"e":7.41,"x":1.2928,"y":1},{"e":7.41,"x":1.2838,"y":3.6},{"e":7.41,"x":1.2798,"y":14},{"e":7.41,"x":1.2778,"y":28},{"e":7.41,"x":1.2753,"y":14},{"e":7.41,"x":1.2708,"y":4.2},{"e":7.41,"x":1.2598,"y":1.2},{"e":7.41,"x":1.24,"y":0.3},
      {"e":6.66,"x":1.3207,"y":0.3},{"e":6.66,"x":1.2915,"y":1},{"e":6.66,"x":1.2825,"y":3.5},{"e":6.66,"x":1.2785,"y":13.5},{"e":6.66,"x":1.2765,"y":27},{"e":6.66,"x":1.274,"y":13.5},{"e":6.66,"x":1.2695,"y":4},{"e":6.66,"x":1.2585,"y":1.2},{"e":6.66,"x":1.24,"y":0.3},
      {"e":5.9,"x":1.3207,"y":0.3},{"e":5.9,"x":1.2902,"y":1},{"e":5.9,"x":1.2812,"y":3.5},{"e":5.9,"x":1.2772,"y":13.5},{"e":5.9,"x":1.2752,"y":27},{"e":5.9,"x":1.2727,"y":13.5},{"e":5.9,"x":1.2682,"y":4},{"e":5.9,"x":1.2572,"y":1.2},{"e":5.9,"x":1.24,"y":0.3},
      {"e":5.23,"x":1.3207,"y":0.3},{"e":5.23,"x":1.289,"y":1},{"e":5.23,"x":1.28,"y":3.5},{"e":5.23,"x":1.276,"y":13.5},{"e":5.23,"x":1.274,"y":27},{"e":5.23,"x":1.2715,"y":13.5},{"e":5.23,"x":1.267,"y":4},{"e":5.23,"x":1.256,"y":1.2},{"e":5.23,"x":1.24,"y":0.3},
      {"e":4.5,"x":1.3207,"y":0.3},{"e":4.5,"x":1.2878,"y":1},{"e":4.5,"x":1.2788,"y":3.6},{"e":4.5,"x":1.2748,"y":14},{"e":4.5,"x":1.2728,"y":28},{"e":4.5,"x":1.2703,"y":14},{"e":4.5,"x":1.2658,"y":4.2},{"e":4.5,"x":1.2548,"y":1.2},{"e":4.5,"x":1.24,"y":0.3},
      {"e":3.8,"x":1.3207,"y":0.3},{"e":3.8,"x":1.286,"y":1},{"e":3.8,"x":1.277,"y":3.6},{"e":3.8,"x":1.273,"y":14},{"e":3.8,"x":1.271,"y":28},{"e":3.8,"x":1.2685,"y":14},{"e":3.8,"x":1.264,"y":4.2},{"e":3.8,"x":1.253,"y":1.2},{"e":3.8,"x":1.24,"y":0.3},
      {"e":3.17,"x":1.3207,"y":0.3},{"e":3.17,"x":1.2841,"y":1},{"e":3.17,"x":1.2751,"y":3.9},{"e":3.17,"x":1.2711,"y":15},{"e":3.17,"x":1.2691,"y":30},{"e":3.17,"x":1.2666,"y":15},{"e":3.17,"x":1.2621,"y":4.5},{"e":3.17,"x":1.2511,"y":1.2},{"e":3.17,"x":1.24,"y":0.3},
      {"e":2.62,"x":1.3207,"y":0.3},{"e":2.62,"x":1.2829,"y":1},{"e":2.62,"x":1.2739,"y":3.8},{"e":2.62,"x":1.2699,"y":14.5},{"e":2.62,"x":1.2679,"y":29},{"e":2.62,"x":1.2654,"y":14.5},{"e":2.62,"x":1.2609,"y":4.4},{"e":2.62,"x":1.2499,"y":1.2},{"e":2.62,"x":1.24,"y":0.3},
      {"e":2.04,"x":1.3207,"y":0.3},{"e":2.04,"x":1.2816,"y":1},{"e":2.04,"x":1.2726,"y":3.9},{"e":2.04,"x":1.2686,"y":15},{"e":2.04,"x":1.2666,"y":30},{"e":2.04,"x":1.2641,"y":15},{"e":2.04,"x":1.2596,"y":4.5},{"e":2.04,"x":1.2486,"y":1.2},{"e":2.04,"x":1.24,"y":0.3},
      {"e":1.57,"x":1.3207,"y":0.3},{"e":1.57,"x":1.2804,"y":1},{"e":1.57,"x":1.2714,"y":3.8},{"e":1.57,"x":1.2674,"y":14.5},{"e":1.57,"x":1.2654,"y":29},{"e":1.57,"x":1.2629,"y":14.5},{"e":1.57,"x":1.2584,"y":4.4},{"e":1.57,"x":1.2474,"y":1.2},{"e":1.57,"x":1.24,"y":0.3},
      {"e":1.08,"x":1.3207,"y":0.3},{"e":1.08,"x":1.2797,"y":1},{"e":1.08,"x":1.2707,"y":3.9},{"e":1.08,"x":1.2667,"y":15},{"e":1.08,"x":1.2647,"y":30},{"e":1.08,"x":1.2622,"y":15},{"e":1.08,"x":1.2577,"y":4.5},{"e":1.08,"x":1.2467,"y":1.2},{"e":1.08,"x":1.24,"y":0.3},
      {"e":0.73,"x":1.3207,"y":0.3},{"e":0.73,"x":1.2792,"y":1},{"e":0.73,"x":1.2702,"y":3.9},{"e":0.73,"x":1.2662,"y":15},{"e":0.73,"x":1.2642,"y":30},{"e":0.73,"x":1.2617,"y":15},{"e":0.73,"x":1.2572,"y":4.5},{"e":0.73,"x":1.2462,"y":1.2},{"e":0.73,"x":1.24,"y":0.3},
      {"e":0.37,"x":1.3207,"y":0.3},{"e":0.37,"x":1.2787,"y":1},{"e":0.37,"x":1.2697,"y":3.9},{"e":0.37,"x":1.2657,"y":15},{"e":0.37,"x":1.2637,"y":30},{"e":0.37,"x":1.2612,"y":15},{"e":0.37,"x":1.2567,"y":4.5},{"e":0.37,"x":1.2457,"y":1.2},{"e":0.37,"x":1.24,"y":0.3},
      {"e":0,"x":1.3207,"y":0.2},{"e":0,"x":1.2779,"y":0.5},{"e":0,"x":1.2689,"y":1.8},{"e":0,"x":1.2649,"y":7},{"e":0,"x":1.2629,"y":14},{"e":0,"x":1.2604,"y":7},{"e":0,"x":1.2559,"y":2.1},{"e":0,"x":1.2449,"y":0.6},{"e":0,"x":1.24,"y":0.2}
    ]
  },
  "hconcat": [
    {
      "width": 161, "height": 628,
      "resolve": {"axis": {"x": "independent"}},
      "layer": [
        {
          "data": {"name": "hf"},
          "mark": {"type": "line", "interpolate": "monotone", "strokeWidth": 1.5, "orient": "vertical"},
          "encoding": {
            "x": {"field": "x", "type": "quantitative", "scale": {"domain": [9.218, 9.37], "reverse": true, "nice": false, "zero": false},
                  "axis": {"orient": "bottom", "title": "ppm", "values": [9.35, 9.3, 9.25], "format": ".2f", "labelOverlap": false}},
            "y": {"field": "e", "type": "ordinal", "scale": {"type": "point", "domain": [19,14.25,13.72,13.21,12.58,11.91,11.21,10.48,9.73,9,8.2,7.41,6.66,5.9,5.23,4.5,3.8,3.17,2.62,2.04,1.57,1.08,0.73,0.37,0], "range": [41, 615], "padding": 0.435}, "axis": null},
            "yOffset": {"field": "y", "type": "quantitative", "scale": {"domain": [0, 100], "range": [8, -92], "nice": false, "zero": false}},
            "order": {"field": "x", "type": "quantitative"},
            "color": {"field": "e", "type": "ordinal", "legend": null, "scale": {"domain": [19,14.25,13.72,13.21,12.58,11.91,11.21,10.48,9.73,9,8.2,7.41,6.66,5.9,5.23,4.5,3.8,3.17,2.62,2.04,1.57,1.08,0.73,0.37,0], "range": ["#8c1038","#84106c","#781078","#6a1080","#5a1288","#48148e","#341892","#221e92","#1a2e92","#1a4290","#165890","#14708e","#12808a","#10887a","#108c66","#14903a","#229222","#3e941a","#5e9414","#7e9410","#908a0c","#967008","#985208","#983208","#961414"]}}
          }
        },
        {"data": {"values": [{}]}, "mark": {"type": "rule", "strokeDash": [3, 3], "strokeWidth": 3, "color": "#000000"}, "encoding": {"x": {"datum": 9.2953, "type": "quantitative", "axis": {"orient": "bottom", "values": [9.325, 9.275, 9.225], "labels": false, "domain": false, "title": null}}}},
        {"data": {"values": [{}]}, "mark": {"type": "text", "text": "H", "font": "Open Sans", "fontWeight": 600, "fontSize": 25, "color": "#FFC000", "align": "left", "baseline": "alphabetic", "dx": 10, "dy": -26}, "encoding": {"x": {"datum": 9.2953, "type": "quantitative", "axis": null}, "y": {"datum": 19, "type": "ordinal"}}},
        {"data": {"values": [{}]}, "mark": {"type": "text", "text": "f", "font": "Open Sans", "fontWeight": 600, "fontSize": 18, "color": "#FFC000", "align": "left", "baseline": "alphabetic", "dx": 29, "dy": -19}, "encoding": {"x": {"datum": 9.2953, "type": "quantitative", "axis": null}, "y": {"datum": 19, "type": "ordinal"}}},
        {"data": {"values": [{}]}, "mark": {"type": "text", "text": "//", "fontWeight": "bold", "fontSize": 17, "color": "#111111", "stroke": "#111111", "strokeWidth": 0.8, "align": "center", "baseline": "middle", "dx": 5.5, "dy": 46}, "encoding": {"x": {"datum": 9.218, "type": "quantitative", "axis": null}, "y": {"datum": 0, "type": "ordinal"}}}
      ]
    },
    {
      "width": 173, "height": 628,
      "resolve": {"axis": {"x": "independent"}},
      "layer": [
        {
          "data": {"name": "he"},
          "mark": {"type": "line", "interpolate": "monotone", "strokeWidth": 1.5, "orient": "vertical"},
          "encoding": {
            "x": {"field": "x", "type": "quantitative", "scale": {"domain": [8.7345, 8.892], "reverse": true, "nice": false, "zero": false},
                  "axis": {"orient": "bottom", "title": "ppm", "values": [8.85, 8.8, 8.75], "format": ".2f", "labelOverlap": false}},
            "y": {"field": "e", "type": "ordinal", "scale": {"type": "point", "domain": [19,14.25,13.72,13.21,12.58,11.91,11.21,10.48,9.73,9,8.2,7.41,6.66,5.9,5.23,4.5,3.8,3.17,2.62,2.04,1.57,1.08,0.73,0.37,0], "range": [41, 615], "padding": 0.435}, "axis": null},
            "yOffset": {"field": "y", "type": "quantitative", "scale": {"domain": [0, 100], "range": [8, -92], "nice": false, "zero": false}},
            "order": {"field": "x", "type": "quantitative"},
            "color": {"field": "e", "type": "ordinal", "legend": null, "scale": {"domain": [19,14.25,13.72,13.21,12.58,11.91,11.21,10.48,9.73,9,8.2,7.41,6.66,5.9,5.23,4.5,3.8,3.17,2.62,2.04,1.57,1.08,0.73,0.37,0], "range": ["#8c1038","#84106c","#781078","#6a1080","#5a1288","#48148e","#341892","#221e92","#1a2e92","#1a4290","#165890","#14708e","#12808a","#10887a","#108c66","#14903a","#229222","#3e941a","#5e9414","#7e9410","#908a0c","#967008","#985208","#983208","#961414"]}}
          }
        },
        {"data": {"values": [{}]}, "mark": {"type": "rule", "strokeDash": [3, 3], "strokeWidth": 3, "color": "#000000"}, "encoding": {"x": {"datum": 8.8227, "type": "quantitative", "axis": {"orient": "bottom", "values": [8.875, 8.825, 8.775], "labels": false, "domain": false, "title": null}}}},
        {"data": {"values": [{}]}, "mark": {"type": "text", "text": "H", "font": "Open Sans", "fontWeight": 600, "fontSize": 25, "color": "#FFC000", "align": "left", "baseline": "alphabetic", "dx": 11, "dy": -26}, "encoding": {"x": {"datum": 8.8227, "type": "quantitative", "axis": null}, "y": {"datum": 19, "type": "ordinal"}}},
        {"data": {"values": [{}]}, "mark": {"type": "text", "text": "e", "font": "Open Sans", "fontWeight": 600, "fontSize": 18, "color": "#FFC000", "align": "left", "baseline": "alphabetic", "dx": 30, "dy": -19}, "encoding": {"x": {"datum": 8.8227, "type": "quantitative", "axis": null}, "y": {"datum": 19, "type": "ordinal"}}},
        {"data": {"values": [{}]}, "mark": {"type": "text", "text": "//", "fontWeight": "bold", "fontSize": 17, "color": "#111111", "stroke": "#111111", "strokeWidth": 0.8, "align": "center", "baseline": "middle", "dx": 6.5, "dy": 46}, "encoding": {"x": {"datum": 8.7345, "type": "quantitative", "axis": null}, "y": {"datum": 0, "type": "ordinal"}}}
      ]
    },
    {
      "width": 111, "height": 628,
      "resolve": {"axis": {"x": "independent"}},
      "layer": [
        {
          "data": {"name": "hd"},
          "mark": {"type": "line", "interpolate": "monotone", "strokeWidth": 1.5, "orient": "vertical"},
          "encoding": {
            "x": {"field": "x", "type": "quantitative", "scale": {"domain": [3.843, 3.9285], "reverse": true, "nice": false, "zero": false},
                  "axis": {"orient": "bottom", "title": "ppm", "values": [3.92, 3.88], "format": ".2f", "labelOverlap": false}},
            "y": {"field": "e", "type": "ordinal", "scale": {"type": "point", "domain": [19,14.25,13.72,13.21,12.58,11.91,11.21,10.48,9.73,9,8.2,7.41,6.66,5.9,5.23,4.5,3.8,3.17,2.62,2.04,1.57,1.08,0.73,0.37,0], "range": [41, 615], "padding": 0.435}, "axis": null},
            "yOffset": {"field": "y", "type": "quantitative", "scale": {"domain": [0, 100], "range": [8, -92], "nice": false, "zero": false}},
            "order": {"field": "x", "type": "quantitative"},
            "color": {"field": "e", "type": "ordinal", "legend": null, "scale": {"domain": [19,14.25,13.72,13.21,12.58,11.91,11.21,10.48,9.73,9,8.2,7.41,6.66,5.9,5.23,4.5,3.8,3.17,2.62,2.04,1.57,1.08,0.73,0.37,0], "range": ["#8c1038","#84106c","#781078","#6a1080","#5a1288","#48148e","#341892","#221e92","#1a2e92","#1a4290","#165890","#14708e","#12808a","#10887a","#108c66","#14903a","#229222","#3e941a","#5e9414","#7e9410","#908a0c","#967008","#985208","#983208","#961414"]}}
          }
        },
        {"data": {"values": [{}]}, "mark": {"type": "rule", "strokeDash": [3, 3], "strokeWidth": 3, "color": "#000000"}, "encoding": {"x": {"datum": 3.8738, "type": "quantitative", "axis": {"orient": "bottom", "values": [3.9, 3.86], "labels": false, "domain": false, "title": null}}}},
        {"data": {"values": [{}]}, "mark": {"type": "text", "text": "H", "font": "Open Sans", "fontWeight": 600, "fontSize": 25, "color": "#2A89D3", "align": "left", "baseline": "alphabetic", "dx": 9, "dy": -26}, "encoding": {"x": {"datum": 3.8738, "type": "quantitative", "axis": null}, "y": {"datum": 19, "type": "ordinal"}}},
        {"data": {"values": [{}]}, "mark": {"type": "text", "text": "d", "font": "Open Sans", "fontWeight": 600, "fontSize": 18, "color": "#2A89D3", "align": "left", "baseline": "alphabetic", "dx": 28, "dy": -19}, "encoding": {"x": {"datum": 3.8738, "type": "quantitative", "axis": null}, "y": {"datum": 19, "type": "ordinal"}}},
        {"data": {"values": [{}]}, "mark": {"type": "text", "text": "//", "fontWeight": "bold", "fontSize": 17, "color": "#111111", "stroke": "#111111", "strokeWidth": 0.8, "align": "center", "baseline": "middle", "dx": 5.5, "dy": 46}, "encoding": {"x": {"datum": 3.843, "type": "quantitative", "axis": null}, "y": {"datum": 0, "type": "ordinal"}}}
      ]
    },
    {
      "width": 137, "height": 628,
      "resolve": {"axis": {"x": "independent"}},
      "layer": [
        {
          "data": {"name": "hc"},
          "mark": {"type": "line", "interpolate": "monotone", "strokeWidth": 1.5, "orient": "vertical"},
          "encoding": {
            "x": {"field": "x", "type": "quantitative", "scale": {"domain": [2.7255, 2.949], "reverse": true, "nice": false, "zero": false},
                  "axis": {"orient": "bottom", "title": "ppm", "values": [2.9, 2.85, 2.8, 2.75], "format": ".2f", "labelOverlap": false}},
            "y": {"field": "e", "type": "ordinal", "scale": {"type": "point", "domain": [19,14.25,13.72,13.21,12.58,11.91,11.21,10.48,9.73,9,8.2,7.41,6.66,5.9,5.23,4.5,3.8,3.17,2.62,2.04,1.57,1.08,0.73,0.37,0], "range": [41, 615], "padding": 0.435}, "axis": null},
            "yOffset": {"field": "y", "type": "quantitative", "scale": {"domain": [0, 100], "range": [8, -92], "nice": false, "zero": false}},
            "order": {"field": "x", "type": "quantitative"},
            "color": {"field": "e", "type": "ordinal", "legend": null, "scale": {"domain": [19,14.25,13.72,13.21,12.58,11.91,11.21,10.48,9.73,9,8.2,7.41,6.66,5.9,5.23,4.5,3.8,3.17,2.62,2.04,1.57,1.08,0.73,0.37,0], "range": ["#8c1038","#84106c","#781078","#6a1080","#5a1288","#48148e","#341892","#221e92","#1a2e92","#1a4290","#165890","#14708e","#12808a","#10887a","#108c66","#14903a","#229222","#3e941a","#5e9414","#7e9410","#908a0c","#967008","#985208","#983208","#961414"]}}
          }
        },
        {"data": {"values": [{}]}, "mark": {"type": "rule", "strokeDash": [3, 3], "strokeWidth": 3, "color": "#000000"}, "encoding": {"x": {"datum": 2.7647, "type": "quantitative", "axis": {"orient": "bottom", "values": [2.925, 2.875, 2.825, 2.775], "labels": false, "domain": false, "title": null}}}},
        {"data": {"values": [{}]}, "mark": {"type": "text", "text": "H", "font": "Open Sans", "fontWeight": 600, "fontSize": 25, "color": "#5A8A32", "align": "left", "baseline": "alphabetic", "dx": 9, "dy": -26}, "encoding": {"x": {"datum": 2.7647, "type": "quantitative", "axis": null}, "y": {"datum": 19, "type": "ordinal"}}},
        {"data": {"values": [{}]}, "mark": {"type": "text", "text": "c", "font": "Open Sans", "fontWeight": 600, "fontSize": 18, "color": "#5A8A32", "align": "left", "baseline": "alphabetic", "dx": 28, "dy": -19}, "encoding": {"x": {"datum": 2.7647, "type": "quantitative", "axis": null}, "y": {"datum": 19, "type": "ordinal"}}},
        {"data": {"values": [{}]}, "mark": {"type": "text", "text": "//", "fontWeight": "bold", "fontSize": 17, "color": "#111111", "stroke": "#111111", "strokeWidth": 0.8, "align": "center", "baseline": "middle", "dx": 5, "dy": 46}, "encoding": {"x": {"datum": 2.7255, "type": "quantitative", "axis": null}, "y": {"datum": 0, "type": "ordinal"}}}
      ]
    },
    {
      "width": 155, "height": 628,
      "resolve": {"axis": {"x": "independent"}},
      "layer": [
        {
          "data": {"name": "hb"},
          "mark": {"type": "line", "interpolate": "monotone", "strokeWidth": 1.5, "orient": "vertical"},
          "encoding": {
            "x": {"field": "x", "type": "quantitative", "scale": {"domain": [1.5108, 1.6205], "reverse": true, "nice": false, "zero": false},
                  "axis": {"orient": "bottom", "title": "ppm", "values": [1.6, 1.56, 1.52], "format": ".2f", "labelOverlap": false}},
            "y": {"field": "e", "type": "ordinal", "scale": {"type": "point", "domain": [19,14.25,13.72,13.21,12.58,11.91,11.21,10.48,9.73,9,8.2,7.41,6.66,5.9,5.23,4.5,3.8,3.17,2.62,2.04,1.57,1.08,0.73,0.37,0], "range": [41, 615], "padding": 0.435}, "axis": null},
            "yOffset": {"field": "y", "type": "quantitative", "scale": {"domain": [0, 100], "range": [8, -92], "nice": false, "zero": false}},
            "order": {"field": "x", "type": "quantitative"},
            "color": {"field": "e", "type": "ordinal", "legend": null, "scale": {"domain": [19,14.25,13.72,13.21,12.58,11.91,11.21,10.48,9.73,9,8.2,7.41,6.66,5.9,5.23,4.5,3.8,3.17,2.62,2.04,1.57,1.08,0.73,0.37,0], "range": ["#8c1038","#84106c","#781078","#6a1080","#5a1288","#48148e","#341892","#221e92","#1a2e92","#1a4290","#165890","#14708e","#12808a","#10887a","#108c66","#14903a","#229222","#3e941a","#5e9414","#7e9410","#908a0c","#967008","#985208","#983208","#961414"]}}
          }
        },
        {"data": {"values": [{}]}, "mark": {"type": "rule", "strokeDash": [3, 3], "strokeWidth": 3, "color": "#000000"}, "encoding": {"x": {"datum": 1.5837, "type": "quantitative", "axis": {"orient": "bottom", "values": [1.62, 1.58, 1.54], "labels": false, "domain": false, "title": null}}}},
        {"data": {"values": [{}]}, "mark": {"type": "text", "text": "H", "font": "Open Sans", "fontWeight": 600, "fontSize": 25, "color": "#FF0000", "align": "left", "baseline": "alphabetic", "dx": 9, "dy": -26}, "encoding": {"x": {"datum": 1.5837, "type": "quantitative", "axis": null}, "y": {"datum": 19, "type": "ordinal"}}},
        {"data": {"values": [{}]}, "mark": {"type": "text", "text": "b", "font": "Open Sans", "fontWeight": 600, "fontSize": 18, "color": "#FF0000", "align": "left", "baseline": "alphabetic", "dx": 28, "dy": -19}, "encoding": {"x": {"datum": 1.5837, "type": "quantitative", "axis": null}, "y": {"datum": 19, "type": "ordinal"}}},
        {"data": {"values": [{}]}, "mark": {"type": "text", "text": "//", "fontWeight": "bold", "fontSize": 17, "color": "#111111", "stroke": "#111111", "strokeWidth": 0.8, "align": "center", "baseline": "middle", "dx": 5, "dy": 46}, "encoding": {"x": {"datum": 1.5108, "type": "quantitative", "axis": null}, "y": {"datum": 0, "type": "ordinal"}}}
      ]
    },
    {
      "width": 110, "height": 628,
      "resolve": {"axis": {"x": "independent"}},
      "layer": [
        {
          "data": {"name": "ha"},
          "mark": {"type": "line", "interpolate": "monotone", "strokeWidth": 1.5, "orient": "vertical"},
          "encoding": {
            "x": {"field": "x", "type": "quantitative", "scale": {"domain": [1.24, 1.3207], "reverse": true, "nice": false, "zero": false},
                  "axis": {"orient": "bottom", "title": "ppm", "values": [1.28, 1.24], "format": ".2f", "labelOverlap": false}},
            "y": {"field": "e", "type": "ordinal", "scale": {"type": "point", "domain": [19,14.25,13.72,13.21,12.58,11.91,11.21,10.48,9.73,9,8.2,7.41,6.66,5.9,5.23,4.5,3.8,3.17,2.62,2.04,1.57,1.08,0.73,0.37,0], "range": [41, 615], "padding": 0.435},
                  "axis": {"orient": "right", "title": null, "labelExpr": "format(datum.value, '.2f') + ' eq.'"}},
            "yOffset": {"field": "y", "type": "quantitative", "scale": {"domain": [0, 100], "range": [8, -92], "nice": false, "zero": false}},
            "order": {"field": "x", "type": "quantitative"},
            "color": {"field": "e", "type": "ordinal", "legend": null, "scale": {"domain": [19,14.25,13.72,13.21,12.58,11.91,11.21,10.48,9.73,9,8.2,7.41,6.66,5.9,5.23,4.5,3.8,3.17,2.62,2.04,1.57,1.08,0.73,0.37,0], "range": ["#8c1038","#84106c","#781078","#6a1080","#5a1288","#48148e","#341892","#221e92","#1a2e92","#1a4290","#165890","#14708e","#12808a","#10887a","#108c66","#14903a","#229222","#3e941a","#5e9414","#7e9410","#908a0c","#967008","#985208","#983208","#961414"]}}
          }
        },
        {"data": {"values": [{}]}, "mark": {"type": "rule", "strokeDash": [3, 3], "strokeWidth": 3, "color": "#000000"}, "encoding": {"x": {"datum": 1.2634, "type": "quantitative", "axis": {"orient": "bottom", "values": [1.3, 1.26], "labels": false, "domain": false, "title": null}}}},
        {"data": {"values": [{}]}, "mark": {"type": "text", "text": "H", "font": "Open Sans", "fontWeight": 600, "fontSize": 25, "color": "#FF0000", "align": "left", "baseline": "alphabetic", "dx": 10, "dy": -26}, "encoding": {"x": {"datum": 1.2634, "type": "quantitative", "axis": null}, "y": {"datum": 19, "type": "ordinal"}}},
        {"data": {"values": [{}]}, "mark": {"type": "text", "text": "a", "font": "Open Sans", "fontWeight": 600, "fontSize": 18, "color": "#FF0000", "align": "left", "baseline": "alphabetic", "dx": 29, "dy": -19}, "encoding": {"x": {"datum": 1.2634, "type": "quantitative", "axis": null}, "y": {"datum": 19, "type": "ordinal"}}}
      ]
    }
  ]
}
